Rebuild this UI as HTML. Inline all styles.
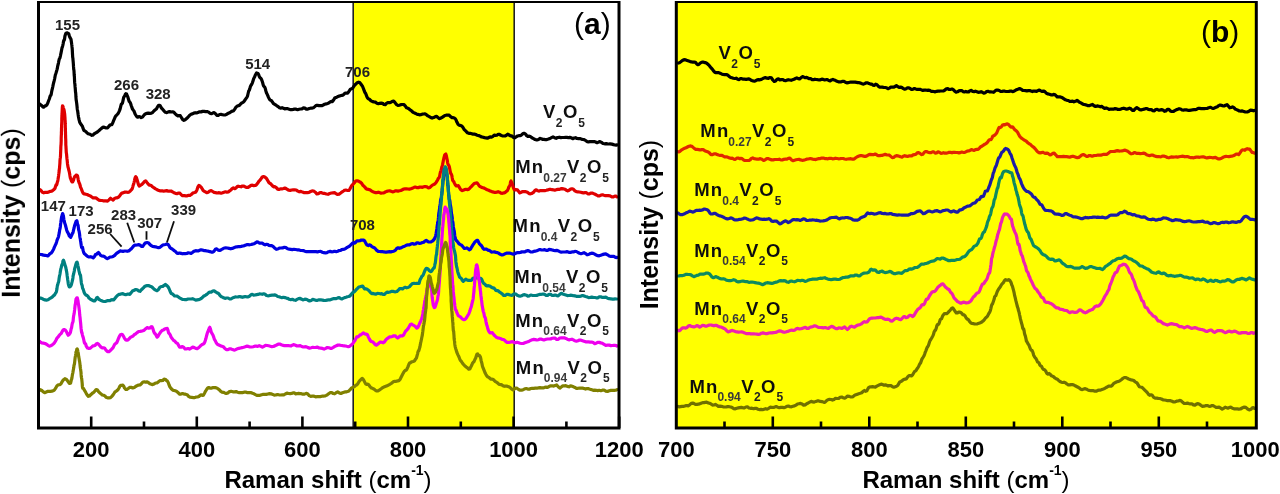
<!DOCTYPE html>
<html><head><meta charset="utf-8"><style>
html,body{margin:0;padding:0;background:#fff;}
svg{display:block;}
text{font-family:"Liberation Sans", sans-serif;font-weight:bold;}
</style></head><body>
<svg width="1280" height="494" viewBox="0 0 1280 494">
<defs>
<clipPath id="ca"><rect x="39" y="2" width="579" height="425"/></clipPath>
<clipPath id="cb"><rect x="677" y="2" width="578" height="425"/></clipPath>
<filter id="soft" x="0" y="0" width="100%" height="100%"><feGaussianBlur stdDeviation="0.5"/></filter>
</defs>
<rect x="0" y="0" width="1280" height="494" fill="#fff"/>
<g filter="url(#soft)">

<rect x="353" y="1.5" width="161.5" height="426.5" fill="#ffff00"/>
<rect x="676.3" y="1.5" width="580.0" height="426.5" fill="#ffff00"/>
<line x1="353.2" y1="1.5" x2="353.2" y2="428" stroke="#222" stroke-width="1.6"/>
<line x1="514.2" y1="1.5" x2="514.2" y2="428" stroke="#222" stroke-width="1.6"/>
<polyline clip-path="url(#ca)" points="39.4,103.7 40.0,104.4 40.7,104.9 41.7,105.6 42.7,106.7 43.7,107.2 44.4,106.5 45.2,105.8 46.0,105.6 46.8,105.0 47.7,103.3 48.5,101.0 49.3,99.0 49.7,97.7 50.1,96.3 50.4,95.7 50.8,95.3 51.2,94.3 51.6,92.0 52.0,90.0 52.3,88.8 52.7,87.1 53.1,85.2 53.5,83.2 53.9,81.8 54.2,80.7 54.6,79.0 55.0,76.7 55.4,74.7 55.8,73.6 56.2,72.4 56.6,71.0 57.0,69.6 57.4,68.0 57.7,66.1 58.1,64.5 58.5,62.8 58.9,60.6 59.3,59.0 59.7,58.3 60.0,57.7 60.4,56.0 60.7,54.5 61.1,52.6 61.6,50.0 62.0,47.9 62.4,46.9 62.8,45.4 63.2,43.5 63.5,41.4 63.9,40.3 64.2,40.2 64.6,38.8 64.9,36.3 65.7,33.6 66.3,33.0 67.0,32.9 67.7,33.1 68.2,33.2 68.7,33.8 69.3,35.7 69.9,37.4 70.4,38.2 71.0,39.3 71.4,42.1 71.6,43.5 71.7,44.2 71.9,45.4 72.0,46.9 72.2,48.5 72.3,50.1 72.4,52.1 72.5,54.2 72.6,55.9 72.7,57.3 72.9,58.3 73.0,59.6 73.1,60.9 73.2,61.9 73.4,64.5 73.5,66.4 73.6,67.5 73.7,69.2 73.9,70.1 74.0,70.9 74.1,73.0 74.2,75.0 74.4,76.8 74.5,79.2 74.6,81.5 74.7,82.9 74.9,84.3 75.0,85.5 75.1,86.9 75.3,89.0 75.4,90.6 75.5,91.9 75.7,93.0 75.8,94.3 75.9,96.7 76.1,99.2 76.2,100.1 76.4,101.1 76.6,102.6 76.8,104.3 77.0,106.2 77.2,108.2 77.4,109.8 77.6,110.7 77.8,112.0 78.0,113.4 78.2,115.0 78.5,117.0 78.8,118.4 79.1,119.9 79.7,122.2 80.3,123.4 80.9,124.1 81.6,125.3 82.4,126.3 83.1,128.4 83.9,130.5 84.7,130.8 85.8,131.5 86.9,132.8 88.1,133.7 89.3,134.1 90.5,134.5 91.8,135.3 92.9,135.1 94.1,133.9 95.3,133.1 96.6,132.5 97.8,131.6 99.1,130.5 100.3,129.4 101.7,128.2 103.2,127.2 104.7,127.4 106.2,128.0 107.5,127.8 108.8,126.4 109.9,125.1 110.9,124.8 111.8,124.6 112.7,123.0 113.6,120.7 114.5,118.6 115.2,116.9 115.9,115.7 116.6,115.2 117.4,114.3 118.1,113.4 118.8,112.2 119.5,110.6 120.2,108.6 120.8,106.1 121.3,104.1 121.9,103.8 122.5,103.0 123.1,100.1 123.7,97.4 124.2,96.6 124.8,95.7 125.3,94.3 125.8,93.7 126.6,94.0 127.2,95.5 127.9,97.2 128.5,99.2 129.2,101.4 130.0,102.3 130.6,103.5 131.2,105.5 131.8,107.1 132.5,109.1 133.2,110.0 133.8,110.7 134.5,112.4 135.1,114.0 135.7,115.0 136.8,116.7 137.9,117.2 138.9,116.5 140.0,116.7 141.2,117.6 142.5,117.1 144.0,115.1 145.6,113.8 146.9,113.4 148.3,113.1 149.9,113.3 151.4,113.1 152.8,112.3 154.1,110.8 155.3,109.8 156.4,109.0 157.3,107.3 158.2,105.8 159.2,105.3 160.2,105.8 161.1,107.5 162.0,108.7 163.0,109.7 164.1,111.1 165.4,112.3 166.8,112.6 168.3,111.9 169.7,111.6 171.1,112.0 172.6,111.8 173.9,112.3 175.3,113.9 176.8,115.2 177.9,115.9 179.1,115.5 180.3,115.7 181.5,117.7 182.7,119.6 183.9,120.3 185.1,119.8 186.3,118.8 187.5,117.8 188.6,116.5 189.8,115.2 191.0,114.3 192.4,113.9 193.8,113.1 195.2,112.7 196.6,113.0 198.0,112.4 199.5,111.8 201.0,111.9 202.6,111.4 204.1,111.4 205.6,111.6 207.1,111.5 208.5,112.1 210.0,113.3 211.4,113.7 212.7,113.1 214.2,112.6 215.5,113.7 216.8,115.3 218.3,115.3 219.6,114.5 221.0,114.4 222.5,114.7 224.0,115.0 225.4,114.9 226.8,114.2 228.2,113.3 229.7,112.7 231.1,111.7 232.5,111.0 233.5,110.9 234.6,109.4 235.6,107.7 236.7,106.5 237.7,105.8 238.7,105.7 239.6,105.1 240.8,103.7 241.9,102.9 243.0,102.4 244.1,101.3 245.2,99.8 245.8,98.8 246.4,97.9 246.9,97.3 247.5,96.1 248.1,93.5 248.7,91.0 249.3,90.2 249.8,88.8 250.4,86.5 250.9,85.5 251.6,84.5 252.3,83.1 252.9,81.2 253.5,79.2 254.1,77.8 254.7,76.8 255.2,75.3 256.6,72.9 258.0,73.4 258.6,74.5 259.3,76.4 260.0,77.7 260.7,78.1 261.5,79.4 262.2,81.3 262.7,82.8 263.2,84.9 263.7,86.1 264.3,86.7 264.8,87.3 265.3,88.6 265.9,91.0 266.5,93.0 267.1,94.1 267.8,95.6 268.4,97.1 269.1,98.5 269.8,99.7 270.5,100.2 271.3,100.5 272.2,101.7 273.3,103.4 274.4,104.2 275.6,104.9 276.9,105.8 278.2,106.6 279.5,107.8 280.7,108.1 282.1,107.7 283.4,108.2 284.8,108.9 286.2,108.5 287.6,108.6 289.2,109.3 290.5,109.6 291.8,109.6 293.2,109.4 294.7,109.0 296.1,109.2 297.6,109.7 299.1,109.3 300.5,109.0 301.9,108.8 303.4,107.9 304.9,108.1 306.3,109.1 307.8,109.1 309.2,108.5 310.5,108.2 311.8,108.2 313.4,107.8 314.8,106.6 316.2,105.3 317.6,105.4 318.9,105.6 320.3,105.7 321.7,105.7 323.2,105.0 324.6,104.3 326.1,103.9 327.5,103.4 328.8,102.9 330.1,102.0 331.3,101.4 332.4,101.6 333.6,100.0 334.7,98.1 335.9,97.6 337.4,96.8 338.9,96.1 340.4,95.7 341.8,95.3 343.0,95.1 344.2,94.0 345.1,93.0 346.0,93.0 347.1,93.2 348.1,92.7 349.3,90.9 350.4,89.2 351.6,88.8 352.7,88.2 353.7,86.5 354.7,85.1 355.7,84.3 356.6,83.3 357.6,82.5 358.6,82.2 359.7,82.6 360.7,83.8 361.7,85.2 362.7,86.7 363.3,88.3 363.9,89.9 364.5,91.5 365.0,92.6 365.6,93.3 366.2,94.8 366.9,96.8 367.7,98.2 368.6,98.8 369.6,99.4 370.5,100.4 371.6,101.1 372.6,101.6 374.0,101.9 375.4,102.1 376.9,103.2 378.4,103.7 379.7,103.3 381.2,103.1 382.6,103.3 383.9,104.5 385.3,104.7 386.7,103.1 388.1,102.5 389.6,102.7 391.0,102.2 392.4,101.4 393.7,101.2 395.1,102.7 396.7,104.7 398.0,105.5 399.3,105.2 400.8,104.7 402.3,104.5 403.8,104.5 405.2,105.9 406.4,107.7 407.6,108.1 408.8,108.7 410.1,109.9 411.3,110.6 412.5,111.8 413.7,112.6 415.1,113.2 416.5,113.9 417.9,114.4 419.4,114.8 420.8,114.6 422.2,114.2 423.6,114.0 425.0,113.8 426.4,114.7 427.9,115.9 429.3,116.6 430.7,117.5 432.1,118.1 433.6,117.6 435.0,116.8 436.5,116.3 437.9,117.4 439.2,118.7 440.7,118.2 442.1,117.3 443.5,116.5 444.8,115.5 446.2,115.2 447.6,115.0 449.1,115.2 450.6,116.7 452.0,117.6 453.3,117.7 454.3,118.0 455.3,118.7 456.2,120.3 457.0,122.3 458.0,124.1 459.0,125.1 459.9,125.4 460.9,125.6 462.0,126.2 463.0,127.5 464.0,129.3 465.1,130.4 466.1,131.3 467.5,132.8 468.8,133.3 470.2,133.3 471.6,133.7 473.1,134.1 474.4,134.1 475.8,134.5 477.3,135.3 478.7,135.6 480.2,136.2 481.6,137.0 483.0,137.2 484.5,137.6 486.0,137.9 487.4,138.2 488.8,137.5 490.1,136.8 491.5,137.2 492.9,136.4 494.2,135.1 495.5,135.3 496.9,135.2 498.2,134.3 499.5,134.4 500.9,135.3 502.3,135.9 503.6,136.0 505.0,136.0 506.4,135.3 507.7,134.2 509.1,135.0 510.5,135.8 511.8,135.8 513.1,137.2 514.6,137.8 516.1,136.8 517.5,136.0 518.8,135.7 520.0,135.6 521.3,135.2 522.4,134.1 523.5,133.3 524.6,133.4 525.7,134.3 526.7,135.7 527.8,136.4 529.3,136.2 530.5,136.6 531.9,137.8 533.5,138.6 535.1,139.5 536.8,140.0 538.5,139.4 539.8,138.4 541.2,138.7 542.5,139.3 544.0,139.4 545.4,139.6 546.9,139.6 548.4,139.1 550.0,138.5 551.5,137.6 553.0,136.9 554.5,137.7 556.1,138.3 557.7,137.5 559.3,137.2 560.9,137.6 562.4,137.5 563.9,137.5 565.5,137.4 567.0,137.4 568.4,137.7 569.8,137.4 571.3,137.8 572.7,138.7 574.1,138.0 575.5,137.7 576.9,138.5 578.4,138.6 579.8,138.6 581.3,139.1 582.7,139.5 584.1,139.6 585.6,140.5 587.0,141.6 588.4,141.8 589.9,141.6 591.3,141.5 592.7,141.6 594.2,141.5 595.6,142.0 597.1,142.7 598.5,142.1 600.0,141.6 601.5,142.4 603.0,143.5 604.6,143.8 606.1,143.6 607.5,143.9 608.9,144.0 610.1,143.8 611.9,144.1 613.5,144.6 615.0,145.0 616.1,145.1 617.0,144.9" fill="none" stroke="#000" stroke-width="3.2" stroke-linejoin="round" stroke-linecap="round"/>
<polyline clip-path="url(#ca)" points="39.4,190.3 40.1,189.7 41.2,190.7 42.4,192.3 43.7,192.8 45.0,192.4 46.4,192.4 47.9,192.3 49.3,191.7 50.5,191.3 51.7,191.1 52.9,190.3 54.0,189.4 55.0,188.3 55.5,186.4 56.0,184.9 56.5,185.1 56.9,184.1 57.3,182.3 57.7,181.2 58.0,179.6 58.4,177.1 58.6,175.7 58.7,174.4 58.9,173.3 59.0,172.5 59.2,170.8 59.3,169.4 59.5,168.4 59.6,167.0 59.7,165.5 59.9,163.1 60.0,160.4 60.1,159.4 60.2,158.6 60.4,157.2 60.5,155.8 60.6,153.3 60.7,150.7 60.8,149.1 60.8,147.9 60.9,146.0 61.0,145.0 61.0,145.1 61.1,143.3 61.2,140.7 61.2,138.4 61.3,135.8 61.4,134.2 61.4,132.6 61.5,130.4 61.5,128.6 61.6,126.9 61.6,125.2 61.7,124.1 61.7,123.5 61.8,121.8 61.8,118.8 61.9,116.4 61.9,115.4 62.0,114.6 62.0,113.4 62.1,113.0 62.1,112.5 62.3,107.8 62.5,105.8 62.6,105.8 62.9,106.4 63.1,106.9 63.3,107.8 63.6,108.9 63.9,109.4 64.1,110.2 64.4,112.3 64.7,114.3 64.9,116.8 65.0,118.5 65.0,119.6 65.1,120.1 65.2,121.9 65.2,123.9 65.3,125.7 65.3,127.2 65.4,128.5 65.4,130.5 65.5,132.4 65.5,134.0 65.6,135.6 65.6,137.2 65.7,139.0 65.8,141.7 65.8,144.3 65.9,145.8 66.0,146.9 66.0,147.9 66.1,149.0 66.2,151.1 66.3,152.6 66.5,153.7 66.7,155.9 66.9,158.2 67.1,159.7 67.3,161.6 67.5,163.9 67.8,165.8 68.0,167.0 68.3,167.9 68.5,168.7 68.7,169.7 69.0,170.7 69.2,171.5 69.6,173.5 70.0,176.1 70.4,178.1 70.8,179.0 71.2,180.1 71.6,181.2 72.0,181.8 72.7,181.9 73.5,180.1 74.2,177.6 74.8,176.4 75.5,176.0 76.1,175.2 76.8,175.1 77.1,175.5 77.5,175.9 77.8,177.3 78.2,179.5 78.6,181.3 79.1,182.8 79.6,183.6 80.0,185.0 80.5,187.0 81.1,188.3 81.7,189.9 82.5,192.0 83.3,193.4 84.4,194.0 85.7,194.2 87.1,194.5 88.6,195.2 90.2,195.9 91.8,197.0 93.1,197.9 94.4,197.9 95.9,197.9 97.3,198.9 98.8,200.1 100.3,200.4 101.8,200.5 103.2,200.8 104.6,200.9 106.1,200.9 107.6,201.1 109.0,199.9 110.5,198.2 111.9,199.2 113.2,200.1 114.5,198.5 115.9,197.9 117.1,197.8 118.3,197.2 119.5,196.1 120.7,194.3 121.8,193.1 123.0,192.9 124.5,192.2 126.0,192.0 127.5,192.3 129.0,192.1 130.3,191.0 131.5,189.7 132.2,188.8 132.7,187.1 133.2,185.2 133.7,183.9 134.1,182.3 134.5,180.5 134.8,178.9 135.3,177.3 135.7,176.7 136.4,177.6 137.1,179.7 137.8,182.2 138.5,184.8 139.2,186.1 140.0,185.6 141.0,184.9 142.1,184.3 143.3,182.9 144.5,181.4 145.6,180.9 146.5,181.9 147.4,183.1 148.3,184.2 149.2,185.1 150.2,185.2 151.3,185.5 152.5,186.8 153.8,187.7 155.2,188.6 156.7,189.5 158.2,190.2 159.8,190.8 161.1,190.8 162.4,190.9 163.8,191.2 165.3,190.8 166.7,190.6 168.2,191.2 169.7,191.2 171.1,191.0 172.5,191.8 174.0,192.7 175.5,193.4 177.0,193.7 178.5,193.1 179.9,193.2 181.3,194.8 182.5,195.7 184.3,195.6 185.9,195.8 187.3,195.8 188.7,195.3 190.0,195.3 191.3,194.5 192.5,193.3 193.6,192.8 194.7,192.5 195.7,192.1 196.9,190.1 197.9,186.9 198.9,185.4 199.9,185.9 200.7,186.8 201.4,187.5 202.2,188.8 203.1,190.5 204.2,191.3 205.4,191.9 206.7,192.7 208.2,192.2 209.7,191.0 211.2,190.6 212.7,191.5 214.1,192.4 215.5,192.6 216.9,193.0 218.4,192.7 219.8,192.9 221.2,193.2 222.6,192.8 224.0,192.2 225.4,191.8 226.9,192.2 228.3,192.0 229.7,190.8 230.9,190.0 232.1,188.6 233.3,187.9 234.6,188.7 235.8,188.1 237.0,186.8 238.2,186.2 239.6,186.5 241.0,186.8 242.4,186.0 243.9,186.1 245.3,186.9 246.7,187.4 248.1,187.4 249.6,186.4 251.0,185.3 252.4,185.2 253.8,185.6 255.2,185.5 256.4,184.8 257.6,183.3 258.8,181.4 260.0,180.1 261.1,178.8 262.1,177.1 263.1,176.5 264.5,176.9 265.6,177.6 266.6,178.7 267.9,180.8 268.8,182.5 269.7,183.2 270.7,183.7 271.7,184.9 272.8,186.1 273.9,186.8 275.0,186.7 276.3,187.6 277.6,189.1 279.0,189.5 280.4,188.9 281.9,188.9 283.5,188.5 284.8,188.1 286.1,188.6 287.4,189.5 288.8,190.2 290.2,190.4 291.7,190.0 293.2,189.8 294.8,189.9 296.3,190.0 297.8,191.1 299.3,191.8 300.9,191.4 302.5,192.1 304.2,192.7 305.8,192.5 307.4,192.7 309.0,192.4 310.6,191.5 312.1,190.9 313.7,191.0 315.3,192.2 316.8,193.8 318.4,193.6 320.0,192.6 321.5,192.7 323.1,193.4 324.7,193.4 326.4,194.0 328.0,194.3 329.7,193.5 331.4,193.0 333.0,192.8 334.5,192.7 336.0,193.7 337.3,194.5 339.1,194.1 340.7,193.0 342.2,191.8 343.5,191.0 344.7,190.2 345.8,190.0 347.5,190.5 348.8,190.5 350.0,188.8 351.1,186.6 352.1,185.0 353.1,184.2 354.2,183.0 355.2,181.5 356.2,180.8 357.2,180.8 358.4,181.1 359.4,181.7 360.6,182.3 361.8,183.5 362.9,185.3 364.1,186.4 365.2,187.5 366.1,188.8 367.1,189.2 368.3,189.4 369.7,189.8 370.9,190.4 372.2,191.4 373.6,192.0 375.1,192.6 376.6,192.7 378.2,192.2 379.7,192.6 381.1,193.2 382.4,193.0 383.8,192.8 385.3,192.0 386.7,191.4 388.1,191.0 389.6,190.8 391.0,191.3 392.4,191.8 393.8,191.6 395.2,190.9 396.6,190.9 398.1,191.1 399.5,190.8 400.9,190.5 402.3,189.8 403.7,189.0 405.1,188.8 406.6,188.9 408.0,189.0 409.4,189.2 410.9,188.8 412.3,188.2 413.7,187.6 415.2,187.1 416.7,187.6 418.2,187.7 419.7,187.0 421.2,187.1 422.5,187.3 423.8,186.8 425.0,186.5 426.9,186.9 428.4,187.8 429.7,187.7 431.0,186.4 432.4,185.1 433.7,184.5 435.0,183.8 436.1,182.5 436.9,181.2 437.7,179.8 438.4,178.3 439.1,177.5 439.7,176.1 440.1,173.5 440.5,171.8 440.8,171.4 441.1,170.3 441.5,168.5 441.8,167.1 442.2,165.9 442.6,164.4 443.0,162.4 443.5,159.8 443.9,158.0 444.4,156.2 444.8,154.8 445.3,154.3 445.8,154.0 446.2,155.2 446.7,157.6 447.2,159.8 447.6,162.6 448.1,164.5 448.5,165.0 448.9,165.5 449.3,166.7 449.7,168.6 450.1,170.7 450.5,172.6 450.9,173.6 451.3,174.2 451.8,175.3 452.2,177.8 452.7,180.4 453.2,181.1 453.8,181.7 454.4,183.1 455.3,184.9 456.3,186.0 457.3,185.8 458.4,185.7 459.4,187.4 460.6,189.6 461.9,190.6 463.2,190.3 464.6,189.6 465.9,189.3 467.4,189.6 469.0,189.1 470.4,187.4 471.7,186.2 472.9,184.9 473.9,183.7 474.9,183.3 476.0,183.1 477.0,182.9 478.0,184.0 479.1,185.7 480.3,186.7 481.6,187.4 482.9,187.7 484.2,188.1 485.7,189.0 487.2,189.7 488.7,190.3 490.1,191.0 491.5,191.4 492.8,191.9 494.1,192.3 495.4,192.4 496.8,192.1 498.1,191.7 499.5,192.2 501.0,193.2 502.4,193.3 503.9,192.9 505.1,192.4 506.2,191.5 507.4,190.6 508.2,188.9 508.8,187.1 509.4,186.1 509.9,185.2 510.2,183.8 510.6,181.7 511.0,181.0 511.4,182.2 511.9,183.0 512.3,184.1 512.9,186.0 513.5,187.9 514.2,189.5 514.8,189.9 515.8,189.6 517.5,189.8 518.5,191.3 519.8,192.9 521.2,192.2 522.7,191.5 524.2,191.7 525.8,191.7 527.4,192.3 529.0,193.6 530.5,193.8 531.9,193.4 533.4,192.4 534.9,190.5 536.3,189.8 537.8,190.8 539.2,191.1 540.6,190.6 542.0,190.5 543.4,190.7 544.9,190.6 546.3,190.3 547.7,189.9 549.1,189.4 550.5,189.4 551.9,189.7 553.3,189.8 554.8,190.2 556.2,189.8 557.6,189.4 559.0,189.4 560.4,188.9 561.9,188.6 563.3,188.8 564.8,189.2 566.3,190.2 567.7,190.9 569.1,190.2 570.6,189.1 572.0,188.8 573.5,189.3 574.9,190.8 576.4,191.7 577.8,191.8 579.3,192.0 580.7,192.3 582.1,192.6 583.6,192.9 585.0,192.7 586.4,192.7 587.9,193.8 589.3,194.0 590.7,193.1 592.2,193.0 593.6,193.6 595.1,194.3 596.5,195.0 598.0,195.9 599.5,195.9 601.0,195.1 602.5,194.8 603.9,195.3 605.3,195.6 606.6,195.7 608.3,195.7 610.1,195.9 611.8,196.8 613.4,196.9 614.9,196.0 616.1,196.2 617.0,196.9" fill="none" stroke="#e00000" stroke-width="3.2" stroke-linejoin="round" stroke-linecap="round"/>
<polyline clip-path="url(#ca)" points="39.4,254.2 40.4,254.5 41.8,254.6 43.4,255.2 45.1,255.3 46.5,255.5 47.7,255.9 48.9,254.9 50.0,253.7 51.1,253.1 52.2,251.8 52.9,250.4 53.7,248.9 54.4,247.1 55.1,245.6 55.9,244.1 56.6,241.9 57.2,239.8 57.8,238.3 58.2,237.7 58.5,236.6 58.8,235.1 59.2,233.2 59.5,231.2 59.7,229.8 60.0,228.8 60.3,227.0 60.5,224.8 60.8,222.7 61.0,221.0 61.2,219.7 61.6,217.0 62.0,215.7 62.3,214.8 62.6,213.6 62.9,214.1 63.1,215.0 63.4,215.8 63.6,217.4 63.9,219.5 64.2,221.2 64.5,222.4 64.9,223.5 65.3,224.7 65.7,226.3 66.2,228.1 66.7,230.2 67.3,231.8 67.8,232.5 68.3,233.5 68.8,234.6 69.2,235.9 70.7,237.3 72.0,234.5 72.4,233.4 72.8,233.1 73.2,231.7 73.7,229.4 74.1,228.0 74.4,226.5 74.8,225.0 75.5,222.9 76.1,221.2 76.8,220.7 77.1,221.6 77.4,223.5 77.7,224.6 78.1,225.3 78.4,227.9 78.7,230.1 79.1,231.3 79.3,232.4 79.6,234.3 79.8,236.5 80.0,237.8 80.3,238.9 80.5,240.5 80.8,242.2 81.0,243.7 81.3,245.7 81.6,247.4 81.9,246.7 82.5,247.4 83.1,250.4 83.8,252.7 84.5,253.8 85.3,254.4 86.2,255.2 87.5,256.4 88.9,257.0 90.5,256.7 91.9,257.1 93.2,257.8 94.5,256.4 95.5,254.6 96.5,254.2 97.5,253.3 98.5,252.5 99.4,253.5 100.4,255.2 101.7,256.0 102.9,256.1 104.3,256.6 105.8,257.8 107.3,258.6 108.8,257.8 110.0,257.0 111.2,257.0 112.3,256.7 113.5,256.2 114.7,255.4 115.9,254.0 117.3,252.8 118.8,251.8 120.3,250.9 121.7,251.2 123.0,251.4 124.5,251.0 125.9,251.0 127.2,251.3 128.7,250.9 129.8,250.1 131.0,249.1 132.2,247.7 133.4,246.2 134.6,245.1 135.7,245.1 137.2,245.0 138.6,244.6 140.0,245.0 141.4,246.4 142.6,246.5 143.8,244.9 144.9,243.3 146.1,242.7 147.1,242.5 148.2,242.7 149.2,243.7 150.2,244.8 151.3,245.7 152.6,246.4 154.1,246.6 155.5,246.8 157.0,247.3 158.4,247.7 159.9,247.4 161.3,246.2 162.6,245.1 164.1,244.8 165.5,244.5 166.9,244.0 167.9,244.2 168.9,245.6 169.9,247.5 171.1,248.5 172.1,248.8 173.1,249.8 174.2,250.6 175.5,251.5 176.8,253.1 178.1,253.4 179.5,253.0 181.0,253.4 182.5,253.8 183.9,253.5 185.3,253.7 186.8,253.5 188.3,252.8 189.7,253.0 191.1,253.4 192.4,252.5 193.6,251.5 194.7,251.0 195.7,250.7 197.0,250.8 198.5,250.9 199.7,250.3 201.0,249.8 202.4,250.1 203.8,250.6 205.3,250.6 206.8,251.0 208.3,251.2 209.8,251.6 211.2,252.1 212.6,252.1 213.9,251.3 215.3,249.3 216.7,248.8 218.2,250.2 219.6,250.5 221.2,249.7 222.7,248.9 224.2,248.0 225.8,247.9 227.4,248.0 229.1,248.4 230.7,248.8 232.3,248.4 233.8,247.8 235.3,247.1 236.9,246.8 238.3,246.7 239.8,246.6 241.2,246.4 242.6,246.0 243.9,245.8 245.3,245.2 246.7,244.7 248.1,244.7 249.6,244.8 251.1,244.5 252.5,244.1 254.0,243.8 255.4,242.9 256.7,241.9 258.0,242.1 259.6,243.2 261.0,243.2 262.4,243.1 263.8,244.3 265.1,244.9 266.5,244.3 267.9,244.6 269.1,245.5 270.4,245.7 271.7,245.6 273.3,246.6 275.0,248.3 276.3,249.3 277.8,249.0 279.3,248.1 280.9,248.0 282.6,247.9 284.3,247.3 285.9,247.6 287.6,248.8 289.2,249.2 290.8,249.4 292.3,249.6 293.9,249.3 295.5,249.5 297.0,249.8 298.6,249.9 300.2,250.3 301.7,250.5 303.3,250.6 304.9,251.2 306.5,251.7 308.0,251.5 309.6,251.6 311.2,251.7 312.8,251.5 314.3,251.6 315.9,251.7 317.5,251.9 319.1,251.5 320.7,251.4 322.3,252.2 323.8,252.7 325.4,252.9 327.0,252.6 328.6,251.7 330.1,251.4 331.6,251.8 333.1,251.6 334.6,251.3 336.2,251.6 337.7,251.2 339.2,250.5 340.6,250.3 342.0,249.5 343.2,249.3 344.4,249.2 345.9,248.3 347.2,247.4 348.3,246.8 349.3,246.3 350.3,245.4 351.3,244.3 352.5,243.1 353.7,242.9 354.8,243.1 355.9,242.0 357.0,240.8 358.4,240.9 359.9,240.7 361.3,240.0 362.7,240.1 363.8,240.1 364.8,241.2 365.9,243.4 367.0,245.1 368.3,245.6 369.4,244.8 370.5,245.2 371.7,246.5 373.0,247.2 374.3,247.8 375.6,248.9 376.8,250.4 378.2,251.4 379.5,251.5 380.9,251.6 382.3,251.7 383.7,251.8 385.3,252.1 386.6,252.2 387.9,251.8 389.4,251.7 390.8,251.9 392.3,251.5 393.8,251.2 395.3,250.4 396.7,248.5 398.1,247.8 399.5,248.3 400.9,247.9 402.4,247.1 403.8,246.6 405.2,245.9 406.6,245.1 408.0,244.9 409.5,244.8 411.0,244.0 412.5,243.5 414.0,244.2 415.5,244.0 416.9,242.8 418.2,242.8 419.3,243.4 421.1,243.1 422.5,242.6 423.7,242.2 424.9,241.1 426.2,240.4 427.3,241.1 428.5,242.0 429.7,242.0 431.0,241.9 432.3,241.2 433.6,240.0 434.6,238.5 435.3,236.8 435.7,235.3 436.1,233.6 436.5,231.1 436.7,229.6 436.9,228.4 437.1,226.7 437.3,225.2 437.5,224.4 437.7,223.1 437.9,221.5 438.1,220.5 438.3,219.2 438.5,217.2 438.7,214.5 438.9,212.7 439.1,212.0 439.2,211.1 439.4,209.8 439.6,208.5 439.8,207.1 440.0,205.4 440.3,203.4 440.5,201.0 440.8,198.8 441.0,198.6 441.3,197.8 441.5,195.7 441.8,193.9 441.9,192.5 442.1,190.9 442.2,189.7 442.4,188.0 442.5,186.0 442.6,184.7 442.8,183.6 442.9,181.9 443.1,180.2 443.2,179.7 443.4,179.3 443.5,177.5 443.9,173.6 444.2,170.7 444.6,169.0 444.9,168.7 445.3,168.6 445.6,167.9 446.0,168.8 446.3,171.4 446.7,173.8 447.0,175.7 447.1,176.1 447.3,176.8 447.4,178.9 447.6,181.4 447.7,183.7 447.8,185.4 448.0,185.6 448.1,186.7 448.3,189.2 448.4,191.2 448.6,192.9 448.7,194.7 449.0,196.9 449.2,198.9 449.5,199.8 449.7,199.9 450.0,202.0 450.2,204.4 450.5,205.6 450.7,206.8 450.9,207.9 451.1,209.4 451.3,211.8 451.4,213.1 451.6,214.1 451.8,215.2 452.0,215.9 452.2,217.5 452.4,219.9 452.6,221.1 452.9,222.3 453.1,224.4 453.3,226.5 453.6,228.4 453.8,229.5 454.0,230.0 454.3,231.4 454.5,233.2 454.7,235.2 455.1,237.5 455.6,239.5 456.2,240.4 456.9,240.9 457.7,241.9 458.6,243.3 459.6,244.2 460.5,244.7 461.7,245.2 463.1,246.9 464.4,248.5 465.8,248.2 467.0,247.9 468.3,249.0 469.5,249.8 470.6,248.9 471.8,246.8 472.8,245.2 473.8,243.7 474.8,242.1 475.8,241.2 476.7,240.4 477.7,240.4 478.5,242.0 479.5,243.9 480.7,245.0 481.7,246.0 482.9,248.1 484.1,249.3 485.4,249.0 486.7,249.2 488.0,250.1 489.2,250.4 490.4,251.1 491.5,252.1 492.8,252.0 494.3,251.9 496.1,252.4 497.4,252.6 498.8,253.3 500.3,254.3 501.9,254.9 503.5,254.6 505.2,253.7 506.9,253.1 508.6,253.1 510.2,253.2 511.8,253.7 513.3,254.2 514.7,253.8 516.1,253.0 517.5,252.6 518.9,252.7 520.4,252.5 521.8,251.8 523.3,251.9 524.8,251.9 526.4,251.0 527.8,250.6 529.2,251.1 530.7,252.0 532.2,252.0 533.7,251.4 535.3,251.1 536.8,250.8 538.4,250.1 540.0,249.5 541.5,250.0 543.1,250.0 544.6,249.6 546.1,250.3 547.6,250.3 549.1,249.4 550.7,249.6 552.2,250.0 553.7,250.4 555.2,250.6 556.7,250.4 558.2,250.8 559.8,251.7 561.3,252.1 562.8,252.0 564.3,252.0 565.8,251.9 567.3,251.6 568.9,252.3 570.4,252.4 571.9,251.9 573.4,251.9 574.9,251.4 576.4,251.5 578.0,252.5 579.5,253.2 581.0,253.6 582.5,253.2 584.0,252.7 585.6,253.6 587.1,254.8 588.6,254.5 590.1,253.6 591.6,253.2 593.2,253.4 594.7,254.2 596.2,255.1 597.7,255.7 599.2,255.8 600.8,255.3 602.4,254.6 604.1,254.1 605.8,253.8 607.5,254.8 609.2,256.0 610.9,256.4 612.4,256.3 613.8,256.4 615.1,257.2 616.1,257.6 617.0,257.4" fill="none" stroke="#0000e0" stroke-width="3.2" stroke-linejoin="round" stroke-linecap="round"/>
<polyline clip-path="url(#ca)" points="39.4,297.9 40.4,298.1 41.7,298.4 43.3,299.2 45.0,299.9 46.5,300.1 48.0,299.8 49.5,298.7 51.0,297.9 52.4,296.9 53.6,295.6 54.3,295.1 54.9,294.4 55.4,293.4 55.9,292.6 56.4,291.7 56.9,289.1 57.3,286.1 57.8,284.5 58.1,283.2 58.5,282.0 58.8,281.0 59.1,278.5 59.5,276.0 59.8,274.9 60.1,273.3 60.4,271.1 60.7,269.5 60.9,268.6 61.2,267.7 61.7,265.4 62.2,264.1 62.6,262.9 63.0,260.9 63.5,260.2 63.9,261.3 64.3,262.7 64.7,264.0 65.1,265.5 65.5,266.4 65.9,268.0 66.3,270.2 66.6,271.5 66.9,273.4 67.2,276.0 67.5,278.1 67.7,279.7 68.0,281.6 68.3,283.8 68.6,285.0 68.9,285.9 69.2,286.8 69.9,286.9 70.6,286.2 71.3,284.8 72.0,282.2 72.3,280.9 72.6,279.7 72.9,278.0 73.1,276.0 73.4,274.8 73.7,273.8 74.0,272.3 74.3,271.0 74.5,269.6 74.8,268.1 75.4,266.1 75.9,264.3 76.5,262.6 77.1,262.2 77.5,263.5 77.8,265.3 78.2,266.9 78.6,268.9 79.0,270.9 79.5,272.9 79.9,274.5 80.2,274.7 80.5,275.3 80.7,276.9 81.0,279.6 81.3,282.3 81.6,284.2 81.9,284.7 82.2,285.7 82.5,287.9 82.9,288.8 83.3,289.6 84.1,292.2 85.0,294.1 86.0,295.0 87.0,295.5 88.0,296.4 89.0,298.1 90.5,299.3 92.0,300.0 93.5,300.8 94.7,300.9 95.8,299.7 96.6,298.0 97.5,297.5 98.4,298.6 99.3,299.6 100.4,300.2 101.7,300.7 102.9,301.2 104.3,301.5 105.8,301.3 107.3,300.7 108.8,300.6 110.0,300.7 111.2,299.9 112.4,299.7 113.6,300.0 114.8,298.7 115.9,297.1 117.4,295.5 118.8,294.4 120.1,294.3 121.6,293.8 122.9,293.7 124.3,294.4 125.8,294.6 127.3,294.2 128.7,294.2 129.9,294.3 131.1,292.8 132.4,291.1 133.6,290.6 134.7,290.0 135.7,289.5 137.2,289.8 138.5,290.9 140.0,291.3 141.0,290.2 142.2,289.0 143.4,287.9 144.6,286.5 145.9,285.8 147.1,285.6 148.3,285.6 149.5,285.9 150.7,286.4 151.9,287.0 153.0,288.0 154.1,289.2 155.6,290.1 157.0,290.7 158.4,289.6 159.8,287.4 161.2,286.5 162.7,286.5 164.1,285.3 165.5,284.5 166.4,285.2 167.3,286.0 168.1,286.9 169.0,288.5 170.0,291.0 171.1,293.4 172.2,293.8 173.3,294.7 174.5,296.0 175.8,296.0 177.1,296.1 178.4,297.0 179.6,297.8 181.0,298.6 182.4,299.4 183.7,299.5 185.1,299.6 186.6,299.6 188.1,299.0 189.5,299.0 191.0,299.0 192.6,298.7 194.2,299.4 195.7,300.1 197.2,299.9 198.5,299.7 199.9,299.2 201.2,298.5 202.4,297.5 203.5,296.3 204.5,295.8 205.6,295.2 206.8,294.4 207.9,293.4 209.0,292.3 210.1,292.1 211.2,292.1 212.7,291.1 214.1,290.8 215.6,291.9 216.9,292.7 218.0,293.2 218.9,293.8 219.9,295.4 221.2,296.7 222.3,297.0 223.6,297.8 225.0,298.4 226.5,298.0 228.1,298.0 229.7,299.0 231.0,298.8 232.3,298.1 233.7,297.4 235.2,296.9 236.6,297.0 238.1,296.9 239.6,296.5 241.0,296.9 242.4,297.3 243.8,296.9 245.2,296.5 246.6,296.8 248.1,296.9 249.5,296.2 250.9,294.8 252.3,294.3 253.7,295.1 255.1,295.0 256.6,294.6 258.0,294.4 259.4,293.9 260.9,294.0 262.3,294.3 263.7,293.8 265.1,294.3 266.5,295.5 267.8,295.8 269.2,295.6 270.6,295.3 272.0,295.2 273.4,295.1 275.0,294.9 276.3,295.5 277.7,296.5 279.0,296.8 280.5,297.3 281.9,297.6 283.4,297.3 284.9,297.6 286.3,298.1 287.8,298.4 289.2,299.3 290.8,299.7 292.3,299.3 293.9,300.0 295.5,300.3 297.0,299.4 298.6,298.6 300.2,298.3 301.7,299.3 303.3,299.9 304.9,299.2 306.5,299.3 308.0,300.2 309.6,301.0 311.2,300.5 312.8,299.4 314.3,299.7 315.9,300.4 317.5,300.3 319.1,299.8 320.7,299.8 322.3,300.1 323.9,300.4 325.5,300.5 327.1,300.1 328.7,299.8 330.2,299.9 331.6,299.3 333.2,298.7 334.8,298.6 336.3,298.6 337.8,297.9 339.2,297.6 340.5,298.5 341.8,299.0 343.0,298.4 344.6,297.6 346.0,297.2 347.3,296.7 348.4,296.5 349.7,296.1 350.8,295.0 351.9,293.5 353.0,292.3 354.0,291.9 355.1,291.0 356.2,289.7 357.5,288.4 358.8,287.0 360.1,286.7 361.4,286.4 362.7,286.1 363.7,287.7 364.7,289.0 365.7,288.8 366.7,289.0 367.8,289.8 369.1,290.8 370.3,292.4 371.7,293.6 373.1,293.4 374.5,293.9 376.0,294.2 377.5,293.4 378.9,293.5 380.3,293.8 381.7,293.6 383.1,294.4 384.4,294.5 385.8,293.0 387.2,292.1 388.6,292.3 390.0,292.0 391.4,291.4 392.8,291.3 394.1,291.6 395.5,291.8 396.9,291.5 398.3,290.2 399.7,288.6 401.1,288.5 402.5,289.0 403.8,287.9 405.2,287.3 406.6,287.8 408.0,287.5 409.5,286.6 411.0,284.9 412.5,283.5 414.1,283.3 415.5,283.5 416.7,283.3 417.7,283.4 419.0,283.5 419.4,282.2 420.0,279.8 420.6,278.9 421.2,277.7 421.9,276.3 422.7,275.7 423.4,274.5 424.0,272.8 425.2,269.9 426.2,268.4 427.3,268.6 428.4,269.4 429.4,270.7 430.5,271.6 431.3,271.4 432.2,270.3 433.0,268.8 433.8,268.0 434.2,268.0 434.6,266.1 434.9,264.2 435.3,263.0 435.6,260.6 435.9,257.6 436.2,255.4 436.4,254.7 436.6,254.4 436.7,252.6 436.9,250.6 437.0,249.5 437.2,248.1 437.4,246.2 437.5,244.8 437.7,243.7 437.8,242.0 438.0,239.8 438.1,238.8 438.2,237.7 438.4,236.0 438.5,233.8 438.6,232.2 438.7,231.5 438.9,229.9 439.0,227.4 439.1,225.8 439.2,225.3 439.4,224.3 439.5,222.8 439.6,221.3 439.7,219.1 439.9,216.9 440.0,215.7 440.1,213.7 440.3,211.3 440.4,210.2 440.5,208.9 440.7,206.5 440.8,205.3 441.0,204.7 441.1,203.8 441.2,202.0 441.4,200.1 441.5,198.5 441.6,195.7 441.8,194.0 441.9,193.9 442.0,192.4 442.2,190.0 442.3,189.0 442.4,187.7 442.6,185.5 442.7,183.0 442.8,180.5 443.0,178.9 443.1,178.2 443.2,177.2 443.4,175.7 443.5,174.8 443.8,173.0 444.1,170.5 444.4,169.3 444.7,168.9 445.0,167.3 445.3,166.8 445.6,167.2 445.9,167.9 446.2,169.5 446.5,170.6 446.7,171.8 447.0,173.8 447.1,175.1 447.3,177.0 447.4,179.1 447.5,180.9 447.7,182.7 447.8,183.8 447.9,184.5 448.1,186.2 448.2,188.0 448.3,189.8 448.5,192.0 448.6,193.7 448.7,194.5 448.9,195.1 449.0,196.8 449.1,199.4 449.3,201.5 449.4,202.6 449.5,203.7 449.7,205.6 449.8,207.1 450.0,208.1 450.1,209.7 450.2,211.7 450.4,213.3 450.5,214.7 450.6,216.2 450.7,217.6 450.9,219.5 451.0,221.9 451.1,223.0 451.2,223.7 451.4,226.1 451.5,228.6 451.6,229.9 451.7,230.7 451.9,232.1 452.0,234.8 452.1,235.9 452.2,236.2 452.4,238.4 452.5,240.8 452.8,242.3 453.1,243.0 453.3,244.7 453.6,247.3 453.9,249.3 454.2,250.2 454.5,251.1 454.8,252.4 455.0,253.4 455.2,254.3 455.4,255.3 455.6,256.9 455.7,259.5 455.9,261.9 456.1,263.6 456.4,265.4 456.6,266.8 456.9,267.5 457.2,269.0 457.7,271.6 458.2,273.4 458.9,275.1 459.5,276.9 460.2,277.7 460.8,277.9 461.5,278.7 462.1,280.1 463.3,281.3 464.6,280.1 465.8,279.2 467.0,279.9 468.5,280.4 469.8,280.3 471.0,280.4 471.9,279.8 472.7,278.5 473.4,278.1 474.5,278.1 475.9,278.1 477.1,277.7 478.4,277.8 479.9,278.6 480.8,278.3 481.7,279.3 482.7,281.9 483.7,283.5 484.8,284.2 485.9,285.4 487.1,285.9 488.4,285.7 489.8,286.0 491.3,287.1 492.3,287.8 493.5,287.8 494.6,288.7 495.8,290.4 497.1,290.6 498.3,290.9 499.6,292.2 500.9,292.9 502.4,294.1 503.8,295.5 505.3,295.3 506.8,294.4 508.4,294.4 510.0,295.0 511.8,295.3 513.1,294.5 514.4,293.8 515.8,294.1 517.2,295.2 518.6,295.9 520.1,296.2 521.6,295.8 523.2,294.9 524.8,294.7 526.4,295.2 527.8,296.1 529.2,295.9 530.7,295.0 532.2,295.3 533.7,295.5 535.3,295.5 536.8,295.4 538.4,294.8 540.0,294.4 541.5,294.3 543.1,294.0 544.6,294.4 546.1,295.3 547.6,295.4 549.1,294.3 550.7,294.4 552.2,295.5 553.7,295.4 555.2,295.0 556.7,295.6 558.2,295.8 559.8,294.4 561.3,293.3 562.8,294.0 564.3,294.6 565.8,295.1 567.3,295.6 568.9,295.5 570.4,295.2 571.9,295.4 573.4,295.7 574.9,295.9 576.4,296.3 578.0,296.4 579.5,296.4 581.0,296.1 582.5,295.5 584.0,295.9 585.6,296.5 587.1,296.9 588.6,297.6 590.1,297.5 591.6,297.1 593.2,297.4 594.7,297.5 596.2,297.8 597.7,297.8 599.2,296.9 600.8,296.8 602.4,297.4 604.1,297.3 605.8,297.2 607.5,298.2 609.2,298.7 610.9,298.8 612.4,299.2 613.8,299.1 615.1,298.9 616.1,299.0 617.0,299.0" fill="none" stroke="#008080" stroke-width="3.2" stroke-linejoin="round" stroke-linecap="round"/>
<polyline clip-path="url(#ca)" points="39.4,341.1 40.4,342.1 41.7,342.9 43.3,343.1 45.0,343.5 46.5,344.2 47.9,345.3 49.4,346.1 50.9,345.7 52.3,344.8 53.6,343.8 54.5,342.7 55.3,341.4 56.1,340.0 56.9,338.3 57.7,337.4 58.4,336.7 59.2,335.4 60.2,334.2 61.2,333.5 62.2,331.6 63.1,329.9 64.1,329.5 65.1,329.9 66.2,331.2 67.2,333.4 68.2,335.2 69.2,334.5 69.6,333.5 70.0,333.3 70.4,332.4 70.9,330.1 71.2,328.7 71.6,327.6 72.0,324.9 72.4,323.0 72.7,322.6 73.1,321.1 73.4,317.7 73.7,315.4 73.9,314.8 74.2,313.3 74.4,311.4 74.6,310.0 74.8,308.3 75.0,306.3 75.2,304.7 75.4,303.9 75.6,302.6 75.8,300.5 76.0,299.2 76.2,298.9 76.8,297.8 77.3,297.8 77.9,300.3 78.5,304.6 78.7,305.4 78.8,306.3 79.0,307.8 79.2,309.3 79.3,310.3 79.5,311.9 79.7,314.8 79.9,316.4 80.1,317.8 80.3,320.1 80.5,322.0 80.7,323.8 80.9,326.4 81.1,328.5 81.3,329.8 81.5,331.6 81.7,332.6 81.9,332.4 82.3,334.3 82.8,336.4 83.2,337.4 83.7,339.5 84.2,342.0 84.6,343.4 85.1,343.4 85.7,344.1 86.2,346.1 87.5,348.0 88.9,348.4 90.4,348.1 91.8,346.9 92.9,345.9 93.9,345.8 95.0,345.5 96.2,344.0 97.5,343.4 98.6,344.3 99.8,345.7 101.0,347.1 102.3,347.9 103.6,347.8 104.8,348.2 106.0,350.2 107.5,351.7 108.9,351.7 110.3,350.5 111.7,349.2 113.1,347.7 113.8,346.1 114.5,344.6 115.3,343.7 116.0,343.3 116.7,342.7 117.5,341.0 118.2,339.1 118.9,337.5 119.6,336.0 120.2,335.0 121.4,334.3 122.4,334.5 123.4,336.1 124.5,338.3 125.8,339.9 126.9,340.2 128.0,339.9 129.2,338.8 130.5,337.2 131.8,336.7 133.1,336.0 134.3,334.7 135.7,333.8 137.1,332.6 138.6,331.5 140.0,331.4 141.4,331.2 142.8,330.8 144.2,330.2 145.7,328.7 147.2,327.6 148.7,328.2 150.0,328.0 151.3,326.7 152.1,326.9 152.9,328.6 153.5,330.8 154.2,332.6 154.8,333.5 155.4,333.9 156.2,335.4 157.0,337.2 157.9,336.5 159.0,334.4 160.1,332.8 161.3,331.2 162.4,330.3 163.5,329.9 164.6,329.1 165.5,328.8 166.4,328.5 167.2,328.4 168.0,330.4 168.6,333.0 169.4,333.6 170.2,334.8 171.1,337.1 171.9,338.2 172.8,339.4 173.7,340.6 174.7,341.0 175.7,342.2 176.7,343.1 177.7,343.7 178.6,345.4 179.6,347.1 181.0,347.2 182.4,346.5 183.7,347.4 185.1,349.0 186.6,348.8 188.1,348.5 189.5,349.1 191.1,348.2 192.7,347.1 194.3,347.6 195.8,348.4 197.2,348.7 198.5,347.8 200.0,346.4 201.2,345.2 202.3,344.4 203.3,344.0 204.2,343.2 204.8,342.0 205.4,340.2 205.9,338.6 206.3,336.9 206.8,335.0 207.2,333.5 207.6,332.3 208.2,330.8 208.7,329.7 209.2,328.2 209.8,327.3 210.3,328.5 210.8,330.4 211.3,332.2 211.9,333.4 212.7,334.6 213.2,335.7 213.8,337.4 214.3,339.1 215.0,340.3 215.7,341.6 216.4,343.1 217.3,344.2 218.3,344.8 219.4,345.3 220.6,345.9 221.9,346.2 223.3,346.7 224.8,348.3 226.3,349.7 228.0,349.6 229.7,348.8 231.0,348.9 232.5,349.6 234.0,350.1 235.6,349.7 237.2,348.8 238.9,348.4 240.5,348.0 242.1,347.6 243.7,347.3 245.2,346.8 246.7,346.1 248.4,346.4 250.0,347.0 251.6,347.0 253.2,346.7 254.7,346.2 256.2,346.2 257.7,346.4 259.2,345.7 260.8,346.3 262.4,347.2 263.9,346.3 265.5,345.3 267.1,345.5 268.7,345.8 270.3,346.2 271.8,346.7 273.4,346.5 275.0,345.7 276.6,345.0 278.2,344.2 279.7,344.0 281.3,344.7 282.9,345.4 284.5,345.6 286.1,345.7 287.6,345.6 289.2,345.7 290.8,346.0 292.3,345.2 293.9,344.6 295.5,345.3 297.0,346.0 298.6,345.8 300.2,345.6 301.7,346.5 303.3,347.0 304.9,346.7 306.5,346.8 308.0,347.6 309.6,348.1 311.2,347.8 312.8,347.3 314.3,347.5 315.9,347.4 317.5,347.1 319.1,348.0 320.7,348.1 322.4,348.4 324.1,349.1 325.7,348.4 327.3,347.5 328.9,347.8 330.3,348.3 331.6,348.3 333.3,347.4 334.9,346.4 336.3,345.8 337.5,345.2 338.8,345.0 340.0,345.2 341.5,345.5 342.9,345.7 344.2,345.8 345.5,346.0 346.7,346.3 348.2,346.6 349.6,346.4 350.9,345.3 352.2,344.3 353.1,343.1 354.0,341.5 354.9,340.7 355.7,338.9 356.7,336.9 357.8,336.8 358.9,336.1 360.1,334.9 361.2,334.6 362.3,333.6 363.5,332.9 364.6,333.8 365.6,334.2 366.7,334.1 367.6,335.0 368.4,337.1 369.3,338.9 370.2,340.5 371.2,341.5 372.5,341.8 373.7,342.8 375.1,344.6 376.7,345.1 377.9,344.1 379.1,342.8 380.5,342.0 381.8,342.3 383.2,342.8 384.5,341.9 385.6,340.1 386.8,338.9 387.9,338.2 389.0,337.3 390.2,336.8 391.2,336.8 392.3,336.5 393.7,335.8 395.1,335.8 396.4,337.0 397.7,338.0 399.0,337.0 400.1,335.9 401.3,335.9 402.4,335.9 403.5,335.2 404.6,332.9 405.7,330.9 406.9,329.9 408.0,328.6 409.1,326.7 410.2,324.7 411.3,324.0 412.7,324.8 414.2,325.6 415.6,326.8 416.8,328.0 417.8,327.5 418.7,325.8 419.4,324.0 420.2,322.3 420.7,321.1 421.1,320.0 421.6,319.2 422.0,317.8 422.4,315.8 422.9,313.2 423.1,311.2 423.4,310.2 423.6,309.3 423.9,307.6 424.1,305.9 424.4,304.4 424.6,302.5 424.8,301.1 425.1,300.1 425.3,298.9 425.6,297.9 425.8,296.7 426.2,294.8 426.6,292.4 427.0,289.5 427.4,287.9 427.8,286.7 428.1,285.7 428.4,285.5 428.9,283.7 429.3,282.2 429.7,282.1 430.0,282.1 430.2,282.8 430.5,284.7 430.9,286.6 431.2,288.0 431.5,289.5 431.7,290.5 431.9,292.3 432.0,295.1 432.2,297.3 432.4,298.8 432.6,300.2 432.8,301.5 433.0,303.2 433.2,304.8 433.4,305.3 433.7,306.1 434.3,307.6 434.9,307.3 435.7,305.3 436.4,303.1 437.0,301.3 437.6,299.1 437.8,297.4 438.0,296.1 438.2,295.4 438.4,294.2 438.6,292.1 438.7,290.2 438.8,288.3 439.0,286.3 439.1,284.8 439.2,283.7 439.4,282.1 439.5,279.7 439.6,278.0 439.7,276.9 439.8,276.0 439.9,274.4 440.0,272.3 440.1,270.7 440.2,269.3 440.3,267.8 440.4,265.6 440.5,263.6 440.5,262.3 440.6,260.9 440.7,259.3 440.8,258.1 440.9,256.7 441.0,255.2 441.1,253.8 441.2,252.2 441.3,250.0 441.4,248.3 441.5,246.3 441.6,244.2 441.7,243.0 441.8,241.4 441.8,239.6 441.9,238.3 442.0,237.2 442.1,236.0 442.2,234.3 442.3,232.6 442.4,231.6 442.5,230.3 442.6,228.1 442.8,226.5 442.9,225.3 443.0,223.8 443.2,222.1 443.3,220.7 443.4,220.0 443.6,219.1 443.7,216.6 443.8,214.8 444.0,214.4 444.4,211.7 444.8,208.5 445.2,207.1 445.6,207.7 446.0,208.5 446.4,208.6 446.8,209.2 447.2,210.8 447.6,212.1 448.0,213.7 448.2,215.0 448.3,216.4 448.4,217.6 448.6,218.4 448.7,219.4 448.8,221.7 449.0,223.4 449.1,224.7 449.2,226.2 449.4,228.0 449.5,229.5 449.6,230.5 449.7,232.6 449.8,234.3 449.9,234.6 450.0,235.5 450.1,237.5 450.2,239.7 450.2,241.8 450.3,244.1 450.4,246.3 450.5,247.6 450.6,248.6 450.7,249.4 450.8,250.0 450.9,251.8 451.0,254.2 451.1,256.3 451.2,258.4 451.3,260.3 451.4,261.8 451.5,263.0 451.6,264.6 451.7,266.3 451.8,268.0 451.8,269.7 451.9,271.1 452.0,272.7 452.1,274.6 452.2,276.3 452.3,277.5 452.4,279.5 452.5,281.7 452.6,283.0 452.7,284.2 452.9,285.6 453.0,286.6 453.1,288.5 453.2,290.5 453.3,291.9 453.5,293.5 453.6,295.0 453.7,296.0 453.9,296.8 454.0,297.9 454.2,299.9 454.3,302.0 454.5,303.2 454.7,304.1 454.8,305.7 455.1,307.5 455.3,309.3 455.7,309.9 456.1,310.2 456.9,312.7 458.0,315.2 459.1,316.2 460.4,316.9 461.5,318.1 462.6,319.1 464.0,319.7 465.4,319.2 466.6,317.5 467.9,315.2 468.4,314.6 468.9,313.6 469.4,312.3 470.0,310.6 470.5,308.7 471.0,307.5 471.4,306.2 471.8,304.4 472.2,302.6 472.6,301.0 472.9,299.9 473.2,298.5 473.4,296.8 473.5,295.0 473.7,293.4 473.9,292.1 474.0,290.2 474.1,288.4 474.3,287.1 474.5,285.2 474.6,283.3 474.8,281.0 474.9,279.3 475.1,278.0 475.2,275.4 475.4,272.9 475.5,271.5 475.7,269.8 475.8,269.0 476.0,268.4 476.2,266.7 476.3,265.6 476.5,265.2 476.7,264.8 476.9,265.1 477.1,266.1 477.3,266.7 477.5,267.6 477.7,268.7 477.9,269.9 478.2,272.1 478.4,274.5 478.6,276.7 478.8,279.1 479.1,280.6 479.3,281.2 479.5,282.7 479.7,284.6 479.9,286.3 480.1,288.3 480.3,289.9 480.4,290.9 480.6,291.6 480.7,293.3 480.9,295.4 481.1,296.8 481.3,298.3 481.5,300.0 481.7,301.3 481.9,303.1 482.1,305.2 482.4,306.6 482.7,308.2 483.0,310.2 483.3,311.6 483.7,312.4 484.0,313.8 484.4,316.1 484.8,317.3 485.1,317.3 485.5,318.6 485.9,321.2 486.3,323.3 486.8,324.9 487.2,326.2 487.6,327.7 488.5,330.7 489.4,332.3 490.3,333.0 491.3,332.8 492.3,332.7 493.2,333.9 494.2,335.2 495.5,336.4 496.7,337.4 497.9,338.0 499.3,338.1 500.9,338.8 502.0,339.3 503.2,339.5 504.5,340.2 505.9,341.7 507.3,342.5 508.7,342.3 510.2,342.1 511.8,341.7 513.1,341.9 514.4,342.7 515.8,342.6 517.2,342.3 518.6,342.7 520.1,343.2 521.6,343.5 523.2,343.5 524.8,342.8 526.4,342.2 527.8,341.8 529.2,341.2 530.7,340.4 532.2,339.7 533.7,339.4 535.3,339.6 536.8,340.0 538.4,339.7 540.0,339.1 541.5,339.2 543.1,339.8 544.6,339.8 546.1,339.3 547.6,339.0 549.1,339.0 550.7,338.9 552.2,338.3 553.7,338.0 555.2,338.2 556.7,339.5 558.2,339.4 559.8,338.0 561.3,337.9 562.8,337.8 564.3,337.8 565.8,338.4 567.3,339.2 568.9,339.9 570.4,339.5 571.9,339.2 573.4,339.9 574.9,340.8 576.4,341.2 578.0,340.8 579.5,340.0 581.0,340.2 582.5,340.7 584.0,341.2 585.6,341.8 587.1,341.9 588.6,341.9 590.1,342.1 591.6,342.0 593.2,342.5 594.7,343.6 596.2,343.2 597.7,342.3 599.2,342.4 600.8,342.9 602.4,343.3 604.1,344.3 605.8,345.3 607.5,345.2 609.2,345.1 610.9,345.6 612.4,345.5 613.8,345.3 615.1,345.4 616.1,345.5 617.0,346.0" fill="none" stroke="#ee00ee" stroke-width="3.2" stroke-linejoin="round" stroke-linecap="round"/>
<polyline clip-path="url(#ca)" points="39.4,390.5 40.3,389.7 41.5,390.2 43.0,391.7 44.6,392.7 46.3,392.0 47.9,391.3 49.3,391.4 50.6,391.3 51.9,391.2 53.1,390.8 54.3,390.1 55.5,388.4 56.7,386.2 57.8,385.1 58.9,384.8 60.0,384.6 61.0,383.7 62.0,381.9 63.0,380.3 64.0,379.4 64.9,378.7 66.5,379.4 68.0,381.5 69.3,383.5 70.6,383.2 71.0,381.5 71.3,379.9 71.7,379.0 72.0,377.6 72.3,375.4 72.6,373.8 72.9,372.6 73.2,370.6 73.5,369.0 73.8,367.3 74.0,365.2 74.3,364.6 74.6,362.9 74.9,359.8 75.2,357.2 75.5,355.7 75.8,354.0 76.0,352.0 76.3,351.4 76.6,350.6 76.8,349.3 77.1,348.9 77.4,349.3 77.7,350.4 77.9,351.6 78.2,352.8 78.5,354.9 78.7,356.7 79.0,358.1 79.3,359.9 79.6,361.6 79.9,363.7 80.1,365.8 80.3,367.5 80.4,368.3 80.6,369.3 80.8,370.9 81.0,372.3 81.1,374.2 81.3,376.6 81.5,377.8 81.7,378.7 81.9,380.6 82.2,383.6 82.4,386.7 82.7,388.2 83.0,388.1 83.3,388.2 84.1,389.7 85.1,391.3 86.2,393.3 87.3,395.1 88.4,396.3 89.4,396.0 90.4,395.0 91.6,394.0 92.6,393.0 93.6,392.6 94.7,391.2 96.1,389.6 97.2,389.8 98.3,391.3 99.6,392.7 101.0,393.9 102.3,395.0 103.6,395.3 104.9,395.9 106.0,397.2 107.6,397.9 109.0,397.9 110.3,397.7 111.6,396.6 113.1,394.9 114.0,393.5 115.0,391.9 116.0,391.3 117.0,390.6 118.0,389.6 119.0,388.0 120.0,386.0 120.8,385.4 121.6,385.3 122.9,385.1 123.7,386.2 124.5,388.0 125.8,389.4 126.9,389.4 128.2,388.5 129.6,387.4 131.1,387.3 132.7,388.0 134.3,387.5 135.6,386.5 137.0,385.7 138.5,385.1 140.0,385.0 141.4,383.8 142.9,382.0 144.3,381.9 145.6,382.1 147.2,381.9 148.6,382.7 149.9,383.8 151.3,384.2 152.6,384.6 154.1,384.0 155.5,383.0 156.9,383.0 158.4,381.9 159.9,380.6 161.4,380.7 162.8,380.5 164.1,379.2 165.2,379.3 166.3,380.3 167.2,380.9 168.2,382.5 169.1,385.0 170.0,387.1 171.1,388.5 172.2,389.6 173.4,390.4 174.5,390.5 175.7,390.9 177.0,391.7 178.3,392.8 179.6,394.2 181.0,394.1 182.5,393.6 184.0,394.1 185.5,394.2 187.1,394.7 188.6,396.3 190.0,397.2 191.6,397.3 193.2,397.6 194.8,397.6 196.2,397.0 197.6,396.9 198.9,396.5 200.2,395.3 201.4,394.8 202.4,395.4 203.4,395.1 204.5,393.2 205.6,391.1 206.6,389.5 207.7,388.0 208.8,387.5 210.0,388.1 211.3,388.1 212.6,387.7 214.0,387.5 215.3,387.6 216.7,388.0 217.8,388.7 218.8,389.4 219.8,390.3 220.8,391.4 222.0,392.1 223.4,392.3 224.8,392.9 226.3,393.5 227.8,393.0 229.5,391.6 231.2,391.3 232.9,391.8 234.5,391.8 236.1,391.6 237.7,392.2 239.3,392.7 240.8,392.7 242.4,392.6 244.0,392.2 245.6,392.1 247.0,392.6 248.4,392.7 249.8,392.6 251.2,392.7 252.6,393.3 254.0,393.8 255.4,394.6 256.8,395.3 258.4,395.4 260.0,395.3 261.6,394.7 263.1,394.4 264.7,394.4 266.3,394.4 267.9,394.0 269.5,393.6 271.1,393.8 272.7,394.4 274.2,395.1 275.8,395.0 277.4,394.5 279.0,394.8 280.6,395.0 282.2,394.9 283.8,394.9 285.3,394.0 286.9,393.1 288.5,393.5 290.1,393.7 291.5,393.4 292.9,392.9 294.3,392.9 295.7,393.8 297.1,393.7 298.5,393.4 299.9,393.6 301.3,393.7 302.9,394.2 304.5,394.1 306.1,393.4 307.6,393.8 309.2,395.6 310.8,396.4 312.4,396.0 314.0,396.2 315.6,396.8 317.2,396.7 318.7,396.7 320.3,396.6 321.9,396.2 323.5,396.1 324.9,396.0 326.3,395.4 327.6,394.6 329.0,393.5 330.4,392.5 331.8,392.7 333.2,393.5 334.6,393.8 336.1,392.7 337.7,391.9 339.3,392.9 340.9,393.5 342.5,392.8 344.0,392.3 345.4,391.9 346.7,391.8 348.4,391.3 349.9,389.9 351.1,388.4 352.3,387.6 353.4,387.1 354.7,386.3 355.7,385.3 356.7,384.9 357.8,383.8 358.9,381.8 360.1,380.3 361.3,379.1 362.3,378.4 363.2,379.3 363.9,380.5 364.6,381.9 365.6,383.9 366.6,384.5 367.6,384.1 368.8,384.9 370.0,386.7 371.2,387.9 372.5,388.3 373.8,389.0 375.2,390.1 376.5,391.0 377.9,390.9 379.2,390.1 380.5,389.2 381.9,388.2 383.2,387.4 384.5,386.8 385.8,386.3 387.1,385.8 388.4,385.1 389.7,384.4 391.2,383.5 392.4,382.5 393.6,381.6 395.0,381.3 396.3,381.3 397.7,380.9 398.9,380.6 400.1,379.4 401.1,377.3 402.0,375.5 402.9,373.7 403.8,372.1 404.6,371.0 405.4,370.4 406.1,370.2 406.8,369.3 407.7,367.4 408.3,366.0 408.9,364.3 409.5,363.1 410.2,362.9 411.6,361.9 413.2,361.5 414.6,360.8 415.2,359.6 415.8,358.9 416.4,358.1 416.9,356.3 417.5,354.1 418.0,351.8 418.4,350.8 418.8,350.7 419.1,349.7 419.5,348.4 419.9,347.0 420.3,344.9 420.6,343.0 421.0,341.4 421.3,340.0 421.6,338.5 421.9,337.0 422.1,336.1 422.4,334.6 422.6,332.8 422.8,331.4 423.0,329.7 423.3,327.4 423.5,325.8 423.7,325.1 424.0,323.7 424.2,322.2 424.4,321.4 424.6,320.1 424.9,317.0 425.1,314.5 425.3,313.2 425.5,311.8 425.7,310.2 425.8,309.1 426.0,308.5 426.1,307.6 426.2,305.0 426.3,302.0 426.4,300.2 426.5,298.6 426.5,297.2 426.6,296.5 426.7,295.5 426.9,294.3 427.0,292.6 427.1,290.5 427.3,288.2 427.5,286.3 427.6,284.5 427.8,282.2 428.0,280.8 428.2,280.9 428.5,279.6 428.7,277.2 428.9,275.9 429.2,275.8 429.6,276.4 429.9,276.6 430.3,277.6 430.8,280.4 431.2,282.8 431.6,283.8 432.0,285.3 432.4,287.1 433.1,289.7 433.7,292.3 434.4,293.3 435.0,292.6 435.4,292.1 435.9,290.9 436.3,290.0 436.8,289.3 437.2,287.5 437.6,285.5 437.8,284.6 438.1,283.8 438.3,282.8 438.5,281.7 438.7,279.4 438.9,276.7 439.1,275.0 439.3,273.9 439.5,272.5 439.7,270.6 439.9,269.5 440.2,268.7 440.4,266.4 440.6,264.0 440.8,263.1 441.1,262.1 441.3,260.1 441.5,257.8 441.8,256.4 442.1,255.2 442.4,253.2 442.6,251.1 442.9,249.3 443.2,248.0 443.5,247.7 444.2,246.2 444.9,243.8 445.6,242.4 446.0,242.9 446.4,244.4 446.7,245.8 447.1,246.9 447.5,249.5 447.7,251.7 447.8,252.7 448.0,253.4 448.1,255.0 448.3,256.4 448.5,257.5 448.6,258.8 448.8,260.2 449.0,262.1 449.1,264.9 449.2,267.0 449.4,268.3 449.5,269.5 449.6,270.7 449.7,272.6 449.8,274.6 449.9,276.1 450.0,276.8 450.0,278.0 450.1,279.8 450.2,281.5 450.2,283.1 450.3,284.9 450.4,286.8 450.5,288.4 450.6,289.5 450.7,290.2 450.7,291.3 450.8,293.2 450.9,294.8 451.0,295.9 451.1,297.7 451.1,300.5 451.2,302.1 451.3,303.0 451.4,304.8 451.5,307.2 451.6,309.1 451.7,310.2 451.9,311.2 452.0,312.2 452.1,313.7 452.2,315.4 452.3,316.7 452.5,318.3 452.6,320.3 452.7,321.7 452.9,323.2 453.0,325.9 453.2,328.7 453.3,330.3 453.5,331.0 453.7,331.7 453.8,333.3 454.0,335.9 454.1,338.3 454.3,339.8 454.4,340.5 454.6,341.5 454.7,343.4 454.9,345.0 455.3,347.1 455.7,348.7 456.1,349.8 456.5,351.2 456.9,352.5 457.3,353.4 457.8,354.6 458.4,355.8 459.1,357.3 459.8,359.3 460.5,360.6 461.3,361.3 462.0,362.4 463.1,364.0 464.2,365.2 465.3,366.3 466.3,367.1 467.5,367.9 468.7,369.2 469.8,369.0 470.5,367.5 471.2,366.2 472.0,364.5 472.7,362.9 473.4,362.3 474.1,361.4 474.9,359.5 475.7,358.0 476.3,356.1 476.9,354.3 477.7,353.9 478.3,355.3 479.0,355.9 479.7,355.7 480.5,357.3 480.9,359.2 481.2,360.9 481.6,362.2 482.0,363.9 482.4,366.0 482.9,367.5 483.3,368.3 483.9,369.8 484.6,371.6 485.3,373.3 486.0,374.6 486.8,375.9 487.7,376.9 488.7,377.4 489.7,378.1 490.7,379.1 491.8,379.2 492.9,379.3 494.1,380.3 495.4,381.6 496.5,382.2 497.5,382.9 498.5,383.9 499.3,384.4 500.9,384.6 501.9,384.9 503.0,385.8 504.3,386.3 505.6,386.0 507.1,386.2 508.6,386.7 510.2,387.6 511.8,389.2 513.1,390.0 514.4,389.0 515.8,388.0 517.2,388.4 518.6,389.5 520.1,390.2 521.6,390.2 523.2,389.7 524.8,388.8 526.4,388.5 527.8,389.1 529.2,389.2 530.7,388.5 532.2,388.3 533.7,388.4 535.3,388.2 536.8,388.2 538.4,387.9 540.0,387.7 541.5,387.9 543.1,387.9 544.6,387.4 546.1,387.2 547.6,387.3 549.1,386.5 550.7,385.8 552.2,385.8 553.7,386.1 555.2,385.5 556.7,384.9 558.2,386.7 559.8,388.1 561.3,387.0 562.8,385.9 564.3,385.8 565.8,385.7 567.3,386.4 568.9,386.8 570.4,385.9 571.9,386.1 573.4,386.8 574.9,387.4 576.4,388.3 578.0,388.3 579.5,388.0 581.0,388.1 582.5,388.1 584.0,388.5 585.6,389.1 587.1,388.6 588.6,388.7 590.1,389.2 591.6,389.6 593.2,390.3 594.7,390.1 596.2,390.3 597.7,390.6 599.2,390.3 600.8,390.7 602.4,390.2 604.1,390.0 605.8,391.1 607.5,391.5 609.2,390.8 610.9,390.4 612.4,390.3 613.8,390.3 615.1,390.3 616.1,390.1 617.0,389.6" fill="none" stroke="#808000" stroke-width="3.2" stroke-linejoin="round" stroke-linecap="round"/>
<polyline clip-path="url(#cb)" points="678.4,63.0 679.4,62.7 680.8,61.7 682.4,60.5 684.1,59.6 685.7,59.8 687.2,60.6 688.7,61.1 690.2,61.6 691.6,61.9 693.0,62.2 694.3,62.2 695.5,62.4 696.6,63.7 697.8,64.7 699.1,64.2 700.5,62.9 702.1,62.1 703.6,62.2 705.1,62.6 706.4,63.1 707.5,63.9 708.4,64.7 709.3,65.6 710.2,66.9 711.2,68.0 712.3,69.1 713.5,70.9 714.7,72.2 716.0,72.7 717.3,72.6 718.7,72.6 720.1,73.2 721.6,73.9 723.1,74.5 724.6,74.7 726.1,74.6 727.5,74.9 729.0,76.2 730.4,77.4 731.9,77.7 733.3,78.2 734.7,78.5 736.1,78.2 737.6,79.2 739.2,79.6 740.5,78.6 741.8,78.7 743.2,79.1 744.6,79.1 746.1,79.4 747.5,79.1 748.9,78.8 750.3,79.7 751.7,80.5 753.1,80.9 754.4,81.1 755.8,80.7 757.2,79.9 758.6,79.6 760.0,79.8 761.4,79.4 762.9,78.5 764.3,77.9 765.7,77.6 767.0,78.2 768.3,78.4 769.9,77.5 771.4,77.9 772.8,80.0 774.2,81.5 775.6,81.0 777.0,79.3 778.4,78.9 779.8,79.9 781.3,79.7 782.9,79.5 784.2,80.5 785.5,80.7 786.9,80.1 788.3,79.7 789.8,80.0 791.2,80.3 792.6,79.8 794.0,79.3 795.4,78.5 796.8,77.9 798.2,78.6 799.6,78.9 801.0,77.8 802.4,76.6 803.8,77.1 805.2,77.7 806.6,77.3 807.9,78.0 809.3,78.7 810.7,78.7 812.1,79.6 813.5,79.7 814.9,79.2 816.3,79.5 817.6,79.7 819.0,79.8 820.4,79.8 821.8,79.2 823.2,79.4 824.6,80.0 826.0,79.7 827.3,79.5 828.7,80.5 830.1,80.9 831.5,79.9 832.9,79.4 834.3,80.1 835.7,80.6 837.0,81.3 838.4,81.8 839.8,81.8 841.2,81.9 842.6,81.3 844.0,81.3 845.4,82.3 846.8,82.9 848.2,82.7 849.6,82.3 851.0,82.0 852.4,82.1 853.8,82.2 855.2,82.2 856.5,82.4 857.9,82.6 859.3,82.7 860.7,83.1 862.1,83.7 863.5,84.1 864.9,83.5 866.3,82.8 867.7,82.9 869.0,83.6 870.4,84.1 871.7,84.2 873.1,85.1 874.4,85.4 875.7,84.2 877.0,84.7 878.4,86.3 879.7,87.1 881.1,87.1 882.4,87.1 883.8,87.5 885.2,87.5 886.6,87.8 888.0,88.7 889.4,88.1 890.8,87.2 892.2,87.1 893.6,87.2 895.0,86.5 896.4,85.7 897.8,86.6 899.2,87.5 900.6,87.1 902.0,87.6 903.4,88.6 904.7,89.2 906.1,88.8 907.5,87.8 908.9,87.8 910.3,88.7 911.7,89.5 913.1,89.2 914.4,88.5 915.8,89.0 917.2,89.4 918.6,89.4 920.0,89.3 921.4,89.9 922.8,90.5 924.1,90.1 925.5,90.0 926.9,90.3 928.3,90.1 929.7,90.3 931.1,91.3 932.5,91.3 933.8,91.5 935.2,91.9 936.6,91.3 938.0,91.1 939.4,91.1 940.8,91.0 942.2,91.0 943.6,90.8 945.0,90.0 946.4,88.8 947.8,88.7 949.2,89.5 950.6,89.3 952.0,89.0 953.3,89.7 954.7,91.2 956.1,92.1 957.5,91.8 958.9,90.9 960.3,90.5 961.7,90.6 963.0,91.6 964.4,91.9 965.8,91.4 967.2,91.9 968.6,92.0 970.0,90.7 971.4,90.4 972.7,91.5 974.1,91.6 975.5,91.2 976.9,91.7 978.3,92.3 979.7,92.2 981.1,91.7 982.4,92.3 983.8,93.1 985.2,92.7 986.6,91.6 988.0,91.3 989.4,91.9 990.8,91.9 992.2,92.0 993.6,92.3 995.0,91.1 996.4,90.0 997.8,90.1 999.2,90.5 1000.6,91.4 1001.9,91.5 1003.3,91.0 1004.7,91.2 1006.1,91.5 1007.5,91.5 1008.9,91.4 1010.3,91.0 1011.6,91.2 1013.0,91.6 1014.4,91.0 1015.8,90.1 1017.2,89.6 1018.6,88.9 1020.0,88.6 1021.3,89.4 1022.7,90.4 1024.1,90.5 1025.5,90.6 1026.9,90.9 1028.3,90.7 1029.7,90.5 1031.0,91.1 1032.4,91.6 1033.8,91.1 1035.2,91.1 1036.6,91.3 1038.0,90.6 1039.4,90.1 1040.8,90.9 1042.2,91.5 1043.6,91.0 1045.0,91.7 1046.4,93.3 1047.9,93.9 1049.4,94.2 1050.9,94.8 1052.3,94.9 1053.5,94.4 1054.7,94.5 1056.2,95.9 1057.3,97.0 1058.5,96.9 1060.0,96.9 1061.2,97.2 1062.5,97.8 1064.0,98.8 1065.5,99.8 1067.0,100.3 1068.4,100.5 1069.7,101.3 1071.3,101.4 1072.7,101.1 1074.0,101.8 1075.4,101.3 1077.0,100.4 1078.2,101.2 1079.5,102.3 1080.9,102.9 1082.2,103.8 1083.7,104.5 1085.2,104.7 1086.7,105.1 1088.1,105.7 1089.5,105.7 1091.0,104.9 1092.5,104.4 1094.0,105.7 1095.6,106.5 1097.2,105.9 1098.9,106.3 1100.3,106.8 1101.7,106.3 1103.1,107.4 1104.6,108.5 1106.1,107.9 1107.6,108.5 1109.1,109.4 1110.5,109.0 1112.0,109.2 1113.5,109.2 1115.0,108.6 1116.4,108.8 1117.9,109.4 1119.3,109.5 1120.8,109.1 1122.2,108.5 1123.6,108.2 1125.1,108.6 1126.5,109.2 1128.0,108.9 1129.5,108.1 1130.9,108.8 1132.4,110.3 1133.8,110.3 1135.3,108.7 1136.8,107.6 1138.2,108.5 1139.7,109.6 1141.1,109.9 1142.6,109.5 1144.1,109.1 1145.5,108.7 1147.0,108.5 1148.4,109.4 1149.9,109.7 1151.4,109.6 1152.8,110.7 1154.3,110.8 1155.7,109.5 1157.2,109.3 1158.7,110.1 1160.1,110.1 1161.6,109.6 1163.0,110.0 1164.5,111.3 1166.0,110.9 1167.4,109.3 1168.9,109.4 1170.3,110.9 1171.8,111.5 1173.3,111.5 1174.7,110.7 1176.2,109.8 1177.6,109.4 1179.1,108.7 1180.6,109.0 1182.0,110.0 1183.5,110.1 1184.9,109.8 1186.4,109.9 1187.9,110.3 1189.4,110.4 1190.9,110.2 1192.4,109.8 1193.9,109.6 1195.3,109.7 1196.8,109.2 1198.2,108.4 1199.6,108.3 1201.0,108.6 1202.6,108.6 1204.3,108.6 1205.8,108.5 1207.4,108.3 1208.8,107.7 1210.3,107.3 1211.7,107.9 1213.1,108.4 1214.6,107.9 1216.0,107.2 1217.4,106.7 1218.8,105.6 1220.1,105.0 1221.4,105.4 1222.8,105.8 1224.2,106.0 1225.6,105.2 1227.0,104.6 1228.3,106.1 1229.7,107.8 1231.1,107.5 1232.5,106.9 1233.9,107.7 1235.2,109.0 1236.6,109.6 1237.9,110.2 1239.3,111.0 1240.8,111.1 1242.3,110.9 1243.8,111.4 1245.4,112.0 1247.2,112.0 1249.0,111.2 1250.6,110.2 1252.2,110.4 1253.5,110.8 1254.4,110.5" fill="none" stroke="#000" stroke-width="3.2" stroke-linejoin="round" stroke-linecap="round"/>
<polyline clip-path="url(#cb)" points="678.0,151.6 678.9,152.0 680.2,151.1 681.7,149.8 683.3,148.9 684.6,148.3 686.0,147.8 687.4,147.0 689.0,146.2 690.6,145.9 691.8,146.3 693.1,147.4 694.5,148.6 695.8,149.4 697.3,149.4 698.8,149.6 700.3,150.0 701.7,149.6 703.2,149.6 704.7,150.7 706.2,151.4 707.8,151.7 709.4,152.9 711.0,154.6 712.5,154.7 714.0,153.8 715.5,153.8 717.0,154.4 718.5,155.0 720.1,155.4 721.6,155.3 723.1,156.0 724.6,156.9 726.1,156.8 727.6,157.1 729.2,157.9 730.7,158.3 732.2,158.2 733.8,159.1 735.3,159.4 736.8,158.1 738.2,158.0 739.5,158.7 740.8,158.4 742.1,158.6 743.5,159.9 745.0,160.5 746.8,160.5 748.9,160.5 750.1,159.9 751.4,158.4 752.7,157.9 754.1,158.7 755.6,158.9 757.1,159.2 758.7,159.2 760.3,158.6 761.9,159.3 763.6,160.5 765.2,159.8 766.8,158.6 768.5,158.7 770.1,159.4 771.7,159.9 773.2,159.9 774.7,159.5 776.2,159.5 777.8,159.5 779.3,159.2 780.8,159.9 782.3,160.0 783.8,159.3 785.4,159.2 786.9,159.2 788.4,158.3 789.9,158.1 791.4,159.8 792.9,160.7 794.5,160.2 796.0,159.8 797.5,159.5 799.0,159.3 800.5,159.9 802.1,160.3 803.6,160.1 805.1,159.7 806.6,159.2 808.1,159.0 809.6,158.7 811.2,158.7 812.7,159.1 814.2,159.3 815.7,159.6 817.2,159.0 818.8,158.6 820.3,158.6 821.8,158.0 823.3,158.1 824.8,158.6 826.4,158.7 827.9,158.8 829.4,158.4 830.9,158.3 832.5,158.8 834.0,158.6 835.5,158.2 837.0,158.5 838.5,158.8 840.1,158.7 841.6,158.5 843.1,158.5 844.6,159.0 846.1,159.3 847.6,159.0 849.2,158.8 850.8,158.7 852.4,159.1 854.1,159.1 855.7,157.8 857.3,156.7 859.0,156.0 860.5,155.6 862.1,155.7 863.6,156.1 865.0,156.5 866.4,156.1 867.7,155.3 868.9,154.6 870.0,154.4 872.1,154.7 873.8,154.6 875.2,154.0 876.3,154.5 877.3,155.3 878.4,155.7 879.7,155.7 881.1,155.4 882.5,155.3 883.9,154.8 885.2,154.4 886.6,154.8 888.0,155.0 889.4,155.2 890.8,156.4 892.2,157.6 893.6,157.4 895.0,156.3 896.4,155.7 897.8,155.9 899.2,156.2 900.6,156.8 902.0,157.1 903.4,156.2 904.7,155.6 906.1,156.2 907.5,156.4 908.9,155.9 910.3,155.8 911.7,155.9 913.1,154.9 914.4,154.7 915.8,154.3 917.2,152.9 918.6,152.6 920.0,153.4 921.4,154.6 922.8,154.3 924.1,152.6 925.5,151.5 926.9,151.7 928.3,152.4 929.7,152.6 931.1,152.6 932.5,151.9 933.8,151.9 935.2,153.1 936.6,152.9 938.0,151.9 939.4,152.3 940.8,153.3 942.2,153.1 943.6,152.7 945.0,153.2 946.4,153.2 947.8,152.8 949.2,152.3 950.6,152.4 952.0,152.8 953.3,152.3 954.7,152.4 956.1,152.5 957.5,152.5 958.9,152.9 960.3,152.6 961.7,152.0 963.0,152.3 964.4,152.5 965.8,151.9 967.2,151.1 968.6,150.9 970.0,150.4 971.4,149.5 972.7,150.0 974.1,150.5 975.5,149.6 976.9,149.4 978.1,149.4 979.4,148.1 980.6,146.8 981.9,146.2 983.1,145.4 984.3,144.5 985.5,143.8 986.6,143.1 987.8,141.8 988.9,140.2 990.0,139.5 991.0,139.7 992.0,138.0 992.9,136.0 993.9,135.8 994.8,135.0 995.8,134.1 996.7,133.0 997.5,131.0 998.4,128.8 999.2,127.4 1000.0,127.7 1001.3,126.9 1002.5,125.1 1003.6,124.7 1004.9,124.8 1006.0,124.3 1007.3,123.9 1008.5,124.5 1009.8,126.1 1010.9,127.1 1011.9,126.9 1012.9,127.1 1013.8,128.5 1014.8,129.8 1015.8,130.4 1016.7,131.2 1017.7,132.5 1018.6,134.3 1019.6,136.1 1020.7,137.3 1021.9,138.5 1023.0,139.2 1024.1,140.0 1025.3,140.6 1026.5,141.4 1027.8,142.8 1029.1,143.8 1030.4,144.4 1031.6,145.6 1032.7,146.6 1033.9,147.4 1035.2,148.8 1036.4,150.4 1037.6,151.8 1038.9,152.7 1040.1,152.9 1041.5,152.6 1042.8,152.3 1044.1,152.9 1045.5,153.5 1046.8,153.1 1048.3,153.6 1049.8,154.9 1051.2,154.6 1052.7,153.4 1054.2,153.2 1055.7,154.8 1057.3,156.6 1058.9,156.6 1060.4,156.5 1062.0,156.6 1063.5,156.4 1065.1,156.6 1066.6,156.7 1068.1,156.9 1069.7,157.2 1071.3,156.6 1072.9,156.2 1074.6,156.8 1076.0,157.4 1077.4,157.6 1078.8,157.4 1080.3,156.3 1081.8,155.0 1083.3,154.5 1084.8,155.2 1086.3,156.3 1087.7,156.3 1089.2,155.5 1090.7,155.7 1092.1,156.2 1093.6,155.7 1095.1,155.5 1096.6,155.3 1098.1,155.0 1099.5,155.2 1100.9,155.1 1102.3,154.7 1103.7,154.3 1105.4,154.3 1107.0,154.3 1108.6,153.0 1110.2,151.6 1111.7,151.5 1113.2,151.5 1114.6,151.4 1115.9,150.9 1117.5,150.6 1119.0,151.1 1120.4,151.0 1121.7,150.9 1123.0,150.6 1124.4,150.2 1125.8,150.4 1127.1,150.9 1128.4,151.8 1129.8,153.0 1131.3,153.8 1132.9,153.5 1134.2,152.5 1135.7,152.9 1137.2,153.4 1138.8,153.4 1140.4,153.6 1142.0,153.5 1143.6,153.1 1145.1,153.6 1146.6,154.7 1148.1,155.3 1149.5,155.6 1151.0,155.2 1152.5,155.1 1154.0,155.7 1155.6,156.4 1157.2,156.6 1158.6,156.5 1160.0,156.8 1161.4,156.6 1162.9,156.1 1164.3,156.2 1165.8,156.7 1167.3,157.5 1168.8,157.8 1170.3,157.3 1171.8,156.9 1173.3,157.2 1174.7,157.0 1176.2,156.9 1177.6,157.1 1179.1,156.8 1180.6,156.5 1182.0,156.2 1183.5,156.4 1184.9,156.8 1186.4,156.5 1187.9,156.6 1189.3,157.3 1190.8,157.6 1192.2,157.7 1193.7,157.8 1195.2,157.4 1196.6,157.0 1198.1,157.1 1199.5,157.3 1201.0,157.0 1202.5,156.8 1203.9,156.9 1205.4,157.5 1206.8,157.9 1208.3,157.6 1209.7,157.4 1211.1,157.5 1212.6,157.8 1214.0,157.6 1215.5,157.4 1217.0,158.3 1218.5,158.9 1220.0,158.8 1221.6,158.2 1223.1,157.3 1224.6,156.6 1226.1,156.4 1227.5,156.5 1228.8,156.7 1230.1,156.4 1231.8,156.2 1233.3,155.8 1234.8,155.0 1236.2,154.0 1237.4,154.0 1238.6,154.6 1239.8,153.2 1241.3,150.8 1242.6,149.8 1243.7,150.0 1244.8,150.3 1245.9,149.2 1247.2,148.7 1248.5,149.1 1249.7,149.1 1250.8,150.7 1252.2,152.5 1253.5,152.7 1254.4,153.1" fill="none" stroke="#e02800" stroke-width="3.2" stroke-linejoin="round" stroke-linecap="round"/>
<polyline clip-path="url(#cb)" points="678.0,213.0 679.0,213.8 680.4,214.6 682.1,214.7 683.9,214.1 685.7,213.1 687.0,212.6 688.3,211.9 689.7,211.1 691.1,211.5 692.6,212.1 694.0,211.7 695.4,210.8 696.8,210.3 698.3,210.3 699.7,210.2 701.2,210.3 702.6,209.9 703.9,209.0 705.2,209.2 706.5,209.5 707.6,209.9 708.7,211.1 709.8,212.9 711.0,213.9 712.5,214.0 713.8,213.4 715.2,213.4 716.7,214.4 718.2,215.3 719.8,215.9 721.5,216.3 723.0,216.9 724.6,217.9 726.1,218.6 727.6,218.9 729.2,218.5 730.7,217.9 732.2,218.3 733.8,219.4 735.3,220.0 736.8,219.8 738.3,219.6 739.8,219.3 741.3,219.1 742.9,218.7 744.4,218.0 745.9,218.3 747.4,219.1 748.9,219.7 750.4,220.1 751.9,220.0 753.5,219.6 755.0,218.7 756.5,217.9 758.1,218.3 759.6,218.9 761.1,219.2 762.6,219.3 764.2,219.2 765.7,219.3 767.2,219.2 768.8,218.7 770.3,219.5 771.7,221.1 773.2,221.4 774.8,221.0 776.5,221.1 778.1,222.4 779.7,223.9 781.2,223.4 782.7,222.3 784.1,221.4 785.6,220.8 787.0,221.7 788.3,222.6 789.6,222.1 791.0,221.0 792.6,219.9 793.9,219.5 795.4,219.8 796.9,219.6 798.5,219.8 800.1,220.4 801.7,219.8 803.3,218.8 804.8,219.0 806.3,220.3 807.8,220.5 809.3,220.2 810.9,220.2 812.4,219.9 813.9,220.0 815.4,220.3 816.9,220.2 818.4,220.6 819.9,221.1 821.5,221.0 823.0,220.9 824.5,220.7 826.1,220.3 827.6,219.5 829.1,218.5 830.6,217.8 832.1,217.5 833.5,217.5 835.0,217.3 836.5,217.2 838.0,218.3 839.6,218.9 841.2,218.0 842.6,217.9 844.0,218.0 845.6,217.5 847.1,217.5 848.6,217.9 850.2,218.2 851.7,218.9 853.2,220.0 854.5,220.1 855.8,220.0 857.5,220.2 859.1,219.3 860.6,217.9 862.0,217.2 863.3,216.7 864.4,216.4 865.5,215.7 866.8,213.7 867.6,212.8 868.5,213.4 870.0,213.6 871.2,213.3 872.5,213.5 874.0,214.1 875.6,214.0 877.3,213.4 879.0,212.8 880.6,212.7 882.2,213.5 883.7,213.6 885.2,213.4 886.7,213.9 888.3,214.0 889.8,213.6 891.3,213.7 892.8,214.5 894.3,214.7 895.8,214.9 897.3,215.1 898.9,214.9 900.4,215.0 901.9,215.1 903.5,215.2 905.0,215.2 906.5,215.1 908.0,215.2 909.5,214.6 911.0,213.7 912.5,213.6 914.1,213.3 915.6,212.4 917.1,211.4 918.6,211.1 920.1,210.8 921.6,212.0 923.2,213.7 924.7,213.4 926.2,212.4 927.8,211.4 929.3,211.0 930.8,211.5 932.3,211.9 933.8,211.5 935.3,210.8 936.9,210.6 938.4,211.2 939.9,211.9 941.4,211.4 942.9,210.7 944.5,210.5 946.1,210.0 947.8,210.0 949.5,211.1 951.1,212.0 952.6,211.3 953.9,210.9 955.1,211.6 956.8,212.1 957.8,212.1 958.7,211.0 960.0,209.8 961.2,209.8 962.5,209.2 963.8,208.0 965.3,207.3 966.7,206.6 968.1,206.1 969.5,206.0 970.9,205.2 972.3,203.9 973.6,203.2 975.0,202.9 976.2,201.6 977.3,200.0 978.4,199.8 979.4,199.5 980.4,197.8 981.4,196.4 982.3,196.7 983.4,196.3 984.4,193.9 985.3,191.3 986.3,191.0 987.3,191.0 987.8,190.0 988.3,188.7 988.8,187.4 989.3,186.1 989.8,185.0 990.4,183.1 990.9,181.3 991.4,179.7 991.9,178.7 992.4,177.4 992.9,174.6 993.4,172.7 993.9,171.8 994.4,170.1 994.9,168.4 995.4,167.2 995.9,166.3 996.4,165.1 996.9,163.5 997.4,161.8 998.0,159.6 998.7,157.9 999.3,157.5 1000.0,156.6 1000.6,155.0 1001.2,153.6 1001.8,152.4 1002.4,152.0 1003.5,151.1 1004.6,149.2 1005.6,148.4 1006.6,148.9 1007.6,149.2 1008.7,150.3 1009.7,152.6 1010.5,154.2 1011.0,154.8 1011.3,155.6 1011.6,156.6 1012.0,158.0 1012.6,159.7 1013.0,160.9 1013.5,162.5 1014.0,163.9 1014.6,165.5 1015.2,166.6 1015.8,167.8 1016.5,170.0 1017.1,172.4 1017.7,173.7 1018.2,174.9 1018.7,176.5 1019.4,178.3 1020.0,179.2 1020.5,180.3 1021.0,182.1 1021.5,183.6 1022.1,184.9 1022.8,186.6 1023.7,188.3 1024.7,189.6 1025.7,190.6 1026.7,191.4 1027.8,191.5 1028.8,191.9 1029.8,192.8 1030.9,193.6 1031.9,194.7 1032.9,196.5 1033.9,197.2 1034.9,197.4 1036.0,198.7 1037.0,199.9 1038.0,200.7 1039.0,202.4 1040.0,204.2 1041.0,204.6 1041.9,205.0 1042.8,206.7 1043.9,208.6 1045.0,210.1 1046.3,210.4 1047.6,210.5 1049.1,210.7 1050.6,210.8 1052.3,211.4 1053.6,212.8 1055.0,214.0 1056.4,214.1 1057.9,214.1 1059.3,214.4 1060.7,214.8 1062.0,215.5 1063.6,215.1 1065.1,213.6 1066.6,213.6 1068.1,214.6 1069.7,215.2 1071.0,215.5 1072.3,216.4 1073.6,217.0 1075.0,216.9 1076.4,217.1 1077.9,217.6 1079.4,218.1 1080.8,218.6 1082.3,218.7 1083.8,218.0 1085.4,217.4 1086.9,217.7 1088.5,217.8 1090.1,217.5 1091.6,217.5 1093.1,217.1 1094.7,217.0 1096.2,217.3 1097.8,217.2 1099.3,217.3 1100.8,217.5 1102.3,217.1 1103.7,217.5 1105.2,217.9 1106.7,217.7 1108.1,216.9 1109.4,215.7 1110.8,215.1 1112.1,215.1 1113.5,215.2 1114.9,215.1 1116.3,215.1 1117.7,214.8 1119.0,213.5 1120.4,212.6 1121.8,212.7 1123.2,212.1 1124.6,211.2 1125.9,211.7 1127.2,213.1 1128.6,213.7 1129.9,213.6 1131.4,214.3 1132.9,214.9 1134.3,214.5 1135.8,215.4 1137.3,216.0 1138.9,216.1 1140.4,216.9 1142.0,217.3 1143.6,216.9 1145.1,217.1 1146.6,218.4 1148.1,219.2 1149.6,219.5 1151.2,219.7 1152.7,219.1 1154.2,219.3 1155.7,220.1 1157.2,219.9 1158.7,219.3 1160.2,219.4 1161.8,218.8 1163.3,217.9 1164.8,218.0 1166.4,218.2 1167.9,218.8 1169.4,219.5 1170.9,220.0 1172.4,220.7 1173.9,220.4 1175.5,219.6 1177.0,219.8 1178.5,220.1 1180.0,220.2 1181.5,220.8 1183.0,221.4 1184.5,221.6 1186.1,221.4 1187.6,221.0 1189.1,220.8 1190.7,221.2 1192.2,221.7 1193.7,222.0 1195.2,222.0 1196.7,221.8 1198.2,221.7 1199.8,221.7 1201.3,221.3 1202.8,221.2 1204.3,222.0 1205.8,222.3 1207.3,222.0 1208.8,222.8 1210.4,223.7 1211.9,223.5 1213.4,222.7 1215.0,222.7 1216.5,223.3 1218.0,223.7 1219.5,223.5 1221.1,222.5 1222.7,222.2 1224.2,222.6 1225.7,222.1 1227.2,222.2 1228.7,222.8 1230.1,222.5 1231.6,221.9 1233.2,221.9 1234.6,222.2 1236.0,222.4 1237.4,221.9 1238.6,221.5 1239.8,221.8 1241.3,220.7 1242.5,218.9 1243.6,217.5 1244.7,216.5 1245.9,216.2 1247.2,216.7 1248.5,217.8 1249.8,218.9 1251.0,219.4 1252.0,219.2 1253.6,219.5 1254.4,219.8" fill="none" stroke="#1e1ea4" stroke-width="3.2" stroke-linejoin="round" stroke-linecap="round"/>
<polyline clip-path="url(#cb)" points="678.0,276.0 679.0,275.9 680.4,275.7 682.1,275.7 683.9,275.3 685.7,274.3 687.0,274.3 688.3,274.5 689.6,274.5 691.0,274.9 692.4,275.9 693.9,276.7 695.4,276.1 696.8,275.4 698.4,275.1 700.0,274.2 701.7,274.0 703.3,274.2 704.8,273.7 706.3,273.1 707.6,273.0 709.3,273.7 710.8,275.3 712.0,277.1 713.4,277.7 714.9,277.0 716.1,276.6 717.4,277.3 718.8,278.0 720.1,278.6 721.6,279.0 723.1,278.7 724.6,279.0 726.0,280.0 727.5,280.5 729.0,280.6 730.6,280.6 732.1,280.2 733.7,279.7 735.3,280.2 736.8,281.4 738.3,281.9 739.8,281.7 741.3,281.3 742.9,281.0 744.4,281.4 745.9,281.6 747.4,281.7 748.9,282.3 750.4,282.2 751.9,282.0 753.5,282.3 755.0,282.6 756.5,282.9 758.1,283.1 759.6,283.3 761.1,284.1 762.6,284.7 764.1,284.1 765.6,283.0 767.2,282.7 768.7,282.9 770.2,283.1 771.7,283.4 773.2,283.1 774.7,282.5 776.2,282.1 777.8,281.7 779.3,280.9 780.8,280.6 782.4,280.9 783.9,280.7 785.4,280.9 786.9,282.0 788.4,282.3 789.9,281.4 791.4,281.0 793.0,281.5 794.5,281.8 796.0,281.2 797.5,280.3 799.0,280.5 800.5,280.8 802.1,280.3 803.6,280.6 805.1,281.4 806.7,281.0 808.2,280.1 809.7,279.7 811.2,279.5 812.7,279.1 814.2,279.1 815.8,279.2 817.3,279.1 818.8,278.5 820.3,278.2 821.8,278.4 823.3,278.0 824.8,277.7 826.4,278.6 827.9,279.1 829.4,279.3 831.0,279.7 832.5,279.4 834.0,279.2 835.5,279.2 837.0,279.4 838.5,279.5 840.0,279.2 841.6,278.2 843.1,277.5 844.6,277.4 846.1,277.2 847.6,277.1 849.2,276.6 850.8,275.8 852.3,275.9 853.9,275.8 855.4,275.0 856.9,275.1 858.3,275.9 859.9,275.8 861.4,274.4 862.9,273.6 864.3,273.1 865.7,273.0 866.9,273.0 868.0,272.6 869.4,271.6 870.4,269.7 871.4,269.2 872.8,270.2 874.1,269.9 875.5,270.1 877.0,271.9 878.7,272.5 880.4,271.5 882.2,271.1 883.6,272.1 885.0,272.6 886.5,272.4 888.1,272.0 889.6,271.4 891.2,271.9 892.8,273.1 894.3,273.7 895.8,273.6 897.3,273.1 898.9,272.8 900.4,273.2 901.9,273.3 903.5,271.9 905.0,270.6 906.5,270.6 907.8,270.2 909.2,269.1 910.5,268.9 911.9,269.1 913.2,268.5 914.6,267.7 915.9,267.5 917.3,267.4 918.6,266.6 920.0,265.3 921.3,264.1 922.7,264.0 924.0,264.1 925.4,263.5 926.7,263.3 928.1,262.9 929.4,262.1 930.8,261.5 932.4,261.1 933.9,260.9 935.6,259.8 937.2,258.5 938.7,258.8 940.2,259.1 941.6,258.2 942.9,258.0 944.6,258.8 946.1,259.5 947.3,260.0 948.7,260.7 950.2,260.6 951.5,260.3 952.8,260.3 954.3,260.4 955.7,260.0 957.2,259.5 958.6,259.5 959.9,259.2 961.2,258.2 962.4,257.1 963.5,256.9 964.7,256.5 965.8,255.6 966.9,254.2 968.1,252.3 969.3,250.9 970.5,250.1 971.7,249.5 972.9,248.0 974.0,246.4 975.1,245.9 976.2,245.4 977.1,244.3 977.9,243.1 978.7,241.1 979.5,239.0 980.3,238.7 981.0,238.5 981.7,236.8 982.3,234.7 983.1,232.8 983.8,232.2 984.4,231.9 985.0,230.3 985.7,228.7 986.3,227.2 986.8,225.6 987.3,223.2 987.8,221.3 988.3,220.5 988.9,218.9 989.4,216.6 989.9,215.6 990.4,214.8 990.8,213.3 991.2,211.3 991.6,209.3 992.0,208.0 992.4,207.3 992.8,206.7 993.2,205.5 993.6,203.4 994.0,200.9 994.4,199.4 994.8,198.9 995.1,198.0 995.5,196.5 995.9,194.3 996.3,192.7 996.6,191.4 997.0,189.5 997.4,188.2 997.8,187.9 998.1,186.7 998.5,184.2 999.1,181.5 999.6,179.3 1000.2,177.7 1000.7,177.9 1001.3,177.8 1001.9,175.8 1002.5,173.6 1003.4,171.9 1004.4,171.2 1005.4,171.0 1006.4,171.0 1007.3,171.3 1008.4,171.6 1009.6,172.2 1010.6,172.7 1011.6,172.9 1012.1,174.0 1012.5,176.1 1013.0,177.3 1013.4,178.9 1013.8,181.1 1014.2,183.1 1014.7,184.8 1015.0,185.8 1015.4,187.1 1015.7,189.0 1016.1,190.5 1016.5,191.5 1016.8,193.0 1017.2,194.6 1017.6,195.7 1018.0,196.8 1018.3,198.3 1018.7,200.3 1019.1,202.3 1019.4,204.1 1019.8,205.6 1020.1,206.3 1020.5,207.3 1020.9,208.7 1021.2,210.0 1021.6,212.8 1022.0,214.8 1022.4,215.1 1022.8,215.6 1023.2,216.8 1023.6,218.9 1024.1,221.1 1024.5,223.0 1024.9,224.6 1025.4,226.2 1025.9,228.3 1026.3,229.6 1026.8,230.5 1027.3,231.6 1027.8,231.9 1028.4,232.8 1029.1,235.3 1029.8,237.8 1030.4,238.6 1031.1,239.4 1031.8,241.2 1032.5,243.0 1033.2,244.7 1033.9,245.9 1034.9,246.5 1036.0,247.1 1037.0,247.8 1038.0,248.5 1039.0,249.4 1040.0,250.6 1041.0,252.3 1041.9,253.6 1042.7,254.2 1043.7,254.7 1045.0,255.3 1046.1,256.0 1047.4,257.5 1048.8,258.7 1050.3,259.4 1051.8,259.1 1053.3,259.4 1054.7,260.8 1056.1,260.9 1057.6,260.2 1059.1,259.9 1060.6,260.8 1061.9,262.7 1063.2,263.8 1064.4,264.4 1065.9,265.8 1067.0,266.5 1068.2,266.7 1069.7,266.6 1070.8,266.4 1072.1,266.9 1073.4,267.8 1074.8,268.1 1076.3,268.0 1077.8,268.1 1079.4,268.1 1080.8,267.3 1082.3,266.5 1083.8,267.5 1085.4,268.4 1087.0,268.2 1088.6,267.4 1090.1,266.5 1091.6,266.6 1093.3,267.4 1094.9,267.8 1096.6,268.4 1098.2,268.5 1099.8,268.3 1101.2,269.0 1102.5,269.6 1104.0,268.3 1105.2,266.6 1106.3,266.0 1107.4,265.3 1108.6,264.4 1109.7,263.7 1110.9,262.7 1112.2,261.4 1113.4,260.8 1114.7,260.5 1115.9,259.7 1117.4,258.7 1118.8,258.3 1120.3,258.3 1121.7,258.1 1123.2,257.2 1124.6,256.1 1126.0,256.3 1127.4,257.6 1128.9,258.6 1130.5,258.9 1131.6,259.3 1132.8,260.4 1134.0,261.0 1135.2,261.5 1136.5,262.4 1137.7,263.4 1139.0,264.9 1140.2,265.9 1141.6,266.0 1142.9,266.5 1144.2,267.6 1145.6,268.1 1146.9,268.7 1148.4,269.3 1149.9,270.5 1151.3,271.9 1152.8,272.5 1154.3,273.0 1155.9,273.3 1157.4,272.4 1159.0,271.9 1160.6,273.2 1162.1,273.7 1163.6,273.0 1165.1,273.7 1166.6,275.2 1168.2,275.8 1169.7,275.6 1171.2,275.4 1172.7,275.9 1174.2,276.3 1175.7,276.2 1177.2,275.8 1178.8,275.6 1180.3,275.3 1181.8,275.8 1183.4,276.7 1184.9,277.1 1186.4,277.1 1187.9,277.5 1189.4,278.2 1190.9,278.0 1192.5,277.8 1194.0,278.9 1195.5,279.7 1197.0,279.1 1198.5,279.0 1200.0,280.0 1201.5,279.8 1203.1,278.9 1204.6,279.4 1206.1,280.7 1207.7,281.6 1209.2,280.9 1210.7,280.2 1212.2,281.2 1213.7,281.3 1215.2,280.3 1216.8,280.5 1218.3,281.3 1219.8,281.8 1221.3,281.6 1222.8,281.0 1224.3,281.1 1225.9,280.7 1227.5,279.7 1229.1,279.9 1230.6,281.0 1232.1,281.8 1233.6,281.8 1235.0,280.9 1236.5,279.8 1238.0,279.4 1239.3,279.5 1240.7,278.7 1242.0,278.4 1243.3,278.7 1244.7,279.3 1246.2,280.0 1247.8,278.9 1249.4,277.8 1250.9,278.7 1252.3,279.3 1253.5,279.3 1254.4,279.9" fill="none" stroke="#108a60" stroke-width="3.2" stroke-linejoin="round" stroke-linecap="round"/>
<polyline clip-path="url(#cb)" points="678.0,330.2 678.8,330.8 679.9,330.6 681.2,329.0 682.7,327.8 684.2,327.8 685.7,328.1 687.0,327.5 688.3,326.0 689.7,325.5 691.1,326.2 692.6,326.7 694.0,326.9 695.4,326.5 696.8,325.6 698.3,326.1 699.7,327.1 701.2,326.3 702.6,325.3 703.9,325.5 705.2,326.1 706.8,326.1 708.3,325.4 709.7,325.0 711.1,325.0 712.5,325.4 713.9,325.8 715.3,325.4 716.6,325.4 718.1,326.3 719.7,326.9 720.9,327.0 722.2,327.5 723.6,328.2 725.0,328.9 726.5,330.5 728.0,331.9 729.5,331.5 730.9,330.8 732.4,330.4 733.9,330.9 735.4,331.7 737.0,331.9 738.5,332.1 740.1,332.0 741.6,331.9 743.1,332.3 744.6,332.9 746.2,333.6 747.7,333.6 749.2,333.5 750.8,333.9 752.3,333.9 753.8,333.8 755.3,334.0 756.8,334.1 758.3,334.3 759.9,334.1 761.4,333.2 762.9,332.9 764.4,333.3 765.9,333.7 767.4,333.6 768.9,333.0 770.5,332.9 772.0,332.9 773.5,332.7 775.1,332.5 776.6,332.1 778.1,331.3 779.6,330.9 781.1,331.1 782.6,331.9 784.2,332.3 785.7,332.0 787.2,331.5 788.7,331.1 790.2,330.6 791.7,330.1 793.2,330.3 794.8,330.1 796.3,328.8 797.8,328.4 799.4,329.0 800.9,328.7 802.4,328.4 803.9,327.7 805.4,327.3 806.9,328.4 808.4,328.4 810.0,327.3 811.5,326.9 813.0,326.4 814.5,325.8 816.0,326.1 817.5,326.9 819.1,327.5 820.6,327.5 822.1,327.6 823.7,327.8 825.2,327.5 826.7,328.0 828.3,328.4 829.8,327.3 831.5,326.4 833.1,326.9 834.6,327.9 836.1,328.7 837.5,328.7 838.8,327.9 840.5,328.0 842.0,328.5 843.2,327.7 844.6,327.0 846.1,328.4 847.4,329.5 848.7,328.4 850.1,326.7 851.5,326.1 853.0,326.8 854.4,327.2 855.8,326.2 857.2,325.3 858.7,324.9 860.2,324.4 861.7,323.7 863.1,322.3 864.4,321.6 865.5,322.1 866.9,322.0 867.7,321.3 868.6,319.9 870.0,318.5 871.1,318.2 872.4,318.1 873.8,318.0 875.3,318.0 876.8,317.7 878.3,317.6 879.7,317.4 881.1,317.2 882.5,317.9 883.9,318.8 885.2,319.4 886.6,319.4 888.0,319.2 889.4,319.7 890.8,321.0 892.2,321.2 893.6,319.9 895.0,318.7 896.4,318.2 897.8,318.5 899.2,319.2 900.6,319.6 902.0,318.6 903.4,316.9 904.7,316.6 906.1,317.7 907.5,317.3 908.9,315.9 910.1,315.3 911.3,315.6 912.5,316.6 913.8,315.7 915.0,313.6 916.2,311.6 917.4,309.8 918.6,308.8 919.6,308.1 920.6,307.1 921.6,305.3 922.6,304.5 923.6,304.8 924.6,303.6 925.6,300.7 926.5,299.1 927.4,299.2 928.3,298.2 929.3,296.0 930.3,294.5 931.2,293.2 932.1,292.0 933.0,291.7 933.8,291.7 934.7,291.4 935.6,290.6 936.8,288.8 938.1,286.9 939.4,285.9 940.6,285.1 941.8,284.1 942.9,283.9 944.3,285.5 945.4,286.9 946.6,287.9 947.8,289.1 948.5,289.2 949.2,289.8 949.9,291.1 950.6,292.3 951.4,293.0 952.2,293.9 953.0,295.5 953.8,297.4 955.0,298.9 956.2,300.1 957.4,301.5 958.7,302.2 959.9,302.9 961.1,303.2 962.7,302.4 964.1,302.2 965.6,302.8 967.2,302.8 968.3,302.6 969.5,302.0 970.8,301.0 972.0,299.2 973.3,297.0 974.5,296.1 975.4,295.1 976.3,293.7 977.2,293.0 978.1,292.7 979.1,291.9 980.0,289.9 980.9,287.4 981.8,285.3 982.5,284.1 983.3,283.9 984.1,283.3 984.9,281.8 985.7,280.7 986.5,279.8 987.2,278.4 987.9,276.1 988.5,274.1 989.1,273.3 989.5,273.2 989.9,271.7 990.2,269.5 990.5,267.7 990.7,266.2 991.0,264.4 991.2,262.6 991.4,260.5 991.6,258.5 991.9,257.7 992.1,257.4 992.4,255.9 992.8,253.6 993.2,251.9 993.6,250.6 994.0,249.1 994.4,247.5 994.8,246.3 995.2,244.9 995.6,243.1 996.0,241.4 996.4,239.9 996.8,238.7 997.2,237.3 997.6,235.0 998.0,233.7 998.4,232.5 998.8,231.2 999.1,230.4 999.5,229.5 999.9,227.5 1000.3,225.4 1000.7,223.6 1001.1,222.6 1001.6,221.5 1002.0,219.6 1002.5,217.6 1003.3,215.9 1004.1,214.4 1004.9,213.9 1005.8,214.2 1006.6,214.0 1007.4,214.3 1008.3,215.2 1009.1,216.1 1009.9,217.7 1010.6,218.9 1011.1,218.8 1011.5,219.6 1011.9,221.9 1012.3,224.7 1012.7,226.3 1013.1,227.2 1013.6,228.9 1014.0,230.0 1014.4,230.9 1014.9,232.1 1015.4,233.1 1015.8,233.9 1016.3,235.3 1016.8,237.3 1017.2,240.1 1017.7,243.1 1018.1,244.4 1018.5,243.9 1018.9,244.1 1019.3,245.7 1019.8,248.1 1020.2,250.7 1020.6,251.8 1020.9,252.5 1021.3,254.3 1021.7,255.2 1022.2,255.8 1022.7,257.5 1023.2,259.4 1023.6,261.1 1024.1,262.4 1024.6,263.6 1025.0,264.8 1025.5,265.9 1025.9,267.5 1026.3,269.7 1026.7,271.0 1027.3,271.7 1028.0,272.7 1028.5,274.3 1029.0,275.9 1029.6,276.9 1030.2,278.6 1030.8,280.0 1031.5,281.3 1032.2,282.7 1032.9,284.5 1033.7,286.0 1034.4,287.3 1035.2,288.5 1036.1,289.1 1037.0,290.1 1038.0,291.9 1038.9,292.8 1039.9,294.4 1041.0,296.6 1042.0,297.5 1043.0,297.7 1044.0,299.6 1045.0,301.7 1046.2,302.4 1047.5,302.3 1048.8,302.6 1050.1,303.2 1051.4,303.7 1052.6,304.6 1053.7,305.5 1054.7,306.5 1056.2,307.8 1057.3,307.8 1058.5,308.1 1060.0,309.2 1061.2,309.3 1062.5,309.5 1063.8,310.2 1065.3,310.4 1066.8,310.5 1068.3,311.7 1069.7,312.7 1071.1,312.0 1072.5,311.8 1074.0,312.3 1075.4,312.3 1076.8,312.1 1078.1,311.2 1079.4,309.9 1081.0,310.1 1082.5,311.4 1083.9,312.3 1085.3,312.8 1086.7,312.3 1087.9,311.4 1089.1,310.8 1090.3,310.2 1091.6,309.8 1092.8,309.2 1094.0,307.8 1095.2,306.4 1096.5,305.9 1097.7,306.1 1099.0,305.7 1100.2,304.4 1101.3,303.0 1102.1,301.7 1102.9,300.3 1103.7,298.8 1104.5,297.0 1105.3,295.6 1106.0,294.6 1106.7,293.6 1107.4,292.0 1108.0,290.8 1108.6,290.2 1109.1,288.9 1109.6,286.6 1110.1,285.0 1110.6,284.0 1111.2,282.5 1111.7,281.2 1112.2,279.9 1112.8,277.9 1113.4,276.3 1114.0,275.4 1114.6,273.9 1115.2,272.8 1115.8,272.6 1116.5,272.3 1117.1,271.5 1118.2,268.7 1119.4,266.2 1120.5,265.5 1121.7,265.2 1122.7,264.4 1123.8,264.2 1124.8,264.5 1125.8,265.0 1126.8,266.4 1127.4,267.1 1128.1,268.3 1128.8,270.5 1129.5,272.2 1130.2,273.1 1130.9,273.7 1131.7,275.3 1132.3,277.4 1132.8,278.7 1133.4,279.5 1134.0,281.0 1134.6,282.6 1135.2,284.6 1135.8,286.7 1136.5,288.3 1137.1,289.8 1137.8,290.8 1138.4,291.6 1139.0,293.0 1139.7,294.6 1140.3,296.3 1141.0,298.1 1141.6,300.1 1142.3,300.9 1143.0,301.0 1143.7,302.6 1144.4,305.0 1145.1,307.1 1146.0,307.7 1146.9,307.8 1147.8,309.3 1148.7,311.0 1149.6,312.2 1150.5,312.9 1151.5,314.0 1152.5,315.3 1153.6,316.2 1154.7,316.6 1155.8,317.4 1157.0,319.4 1158.2,321.0 1159.4,321.1 1160.7,321.4 1162.0,322.6 1163.2,323.6 1164.5,323.9 1166.0,324.6 1167.4,325.1 1168.9,324.4 1170.5,323.8 1172.0,323.7 1173.5,324.1 1175.1,324.4 1176.6,324.6 1178.1,325.6 1179.6,326.7 1181.2,326.6 1182.7,327.0 1184.2,327.9 1185.8,327.1 1187.3,326.4 1188.8,327.0 1190.3,327.8 1191.8,328.4 1193.3,328.0 1194.9,327.6 1196.4,328.0 1197.9,328.7 1199.4,329.1 1200.9,329.5 1202.4,329.7 1203.9,330.1 1205.5,331.1 1207.0,331.4 1208.5,330.8 1210.1,330.1 1211.6,330.2 1213.1,331.6 1214.6,332.5 1216.1,331.5 1217.6,330.7 1219.2,330.6 1220.7,330.6 1222.2,330.8 1223.7,331.8 1225.2,332.6 1226.7,332.2 1228.1,331.3 1229.6,331.1 1231.0,331.8 1232.5,331.9 1234.0,331.2 1235.6,331.3 1237.4,332.3 1238.8,333.1 1240.4,333.1 1242.1,332.6 1243.9,332.5 1245.8,332.6 1247.6,333.3 1249.3,333.5 1250.9,332.6 1252.3,332.6 1253.5,333.3 1254.4,332.9" fill="none" stroke="#ee20b0" stroke-width="3.2" stroke-linejoin="round" stroke-linecap="round"/>
<polyline clip-path="url(#cb)" points="678.0,406.4 679.0,406.9 680.4,406.6 682.1,406.3 683.9,406.3 685.7,405.7 687.0,405.6 688.4,405.8 689.8,404.7 691.3,403.3 692.7,403.1 694.1,403.6 695.4,404.3 697.0,404.3 698.4,404.1 699.7,403.9 701.1,403.3 702.7,402.6 703.9,402.6 705.3,402.4 706.6,402.2 708.0,402.9 709.5,403.2 711.0,403.9 712.5,405.1 713.9,405.0 715.4,404.4 716.9,405.3 718.4,406.4 720.0,406.2 721.5,406.3 723.1,406.8 724.6,407.0 726.1,407.0 727.6,406.6 729.2,406.7 730.7,407.0 732.2,407.6 733.8,408.6 735.3,408.8 736.8,408.2 738.3,407.9 739.8,407.6 741.3,407.4 742.9,407.8 744.4,407.9 745.9,407.0 747.4,406.8 748.9,408.0 750.4,408.3 751.9,408.2 753.5,408.7 755.0,408.4 756.5,408.3 758.1,409.3 759.6,409.6 761.1,409.4 762.6,409.7 764.1,409.2 765.6,408.7 767.2,409.1 768.7,408.3 770.2,407.2 771.7,407.3 773.2,407.5 774.7,407.1 776.2,406.6 777.8,407.2 779.3,407.7 780.8,407.4 782.4,407.4 783.9,407.6 785.4,407.2 786.9,406.3 788.4,406.0 789.9,406.7 791.4,406.8 793.0,406.2 794.5,405.9 796.0,405.1 797.5,404.0 799.0,403.7 800.5,403.4 802.1,404.0 803.6,405.2 805.1,404.9 806.7,403.7 808.2,403.0 809.7,402.1 811.2,401.3 812.7,401.9 814.2,402.1 815.8,401.4 817.3,400.9 818.8,400.9 820.3,401.4 821.8,401.6 823.3,402.1 824.8,402.3 826.4,400.8 827.9,399.7 829.4,399.4 831.0,399.5 832.5,400.1 834.0,399.5 835.5,398.3 837.1,398.5 838.7,398.4 840.2,397.3 841.7,397.0 843.2,397.7 844.7,398.2 846.1,397.3 847.6,396.1 849.0,396.3 850.4,396.9 851.8,397.0 853.1,396.6 854.4,395.4 855.8,394.7 857.2,394.4 858.7,393.7 860.2,393.3 861.7,392.8 863.1,391.3 864.4,390.5 865.5,391.3 866.9,390.7 867.7,389.1 868.6,387.7 870.0,386.8 871.1,387.0 872.4,386.6 873.8,386.8 875.3,387.2 876.8,386.2 878.3,385.4 879.7,384.7 881.1,384.1 882.5,384.6 884.0,385.2 885.4,384.9 886.8,385.3 888.1,386.0 889.4,385.6 891.0,385.6 892.5,386.7 893.9,387.2 895.3,386.8 896.7,386.1 897.7,385.5 898.8,383.6 899.8,381.9 900.8,381.5 901.8,381.0 902.9,380.1 904.0,379.3 905.2,379.2 906.4,378.7 907.7,376.9 909.0,375.6 910.2,375.7 911.4,375.9 912.5,375.0 913.5,373.2 914.4,371.7 915.3,371.2 916.1,370.4 916.9,369.0 917.7,368.0 918.6,366.5 919.3,364.8 920.0,363.6 920.6,362.9 921.3,360.9 922.0,358.9 922.7,358.0 923.3,357.0 924.0,355.8 924.7,354.0 925.3,352.1 925.9,350.8 926.5,349.1 927.1,347.5 927.7,346.7 928.3,345.7 928.9,343.9 929.5,342.0 930.1,340.5 930.8,339.5 931.4,338.5 932.1,337.2 932.7,336.2 933.4,334.6 934.1,332.0 934.8,330.6 935.5,330.1 936.2,328.4 936.8,326.0 937.4,324.6 938.0,324.6 938.8,324.0 939.5,322.1 940.2,319.8 940.8,319.1 941.5,318.8 942.2,317.1 942.9,315.4 944.1,313.9 945.4,313.5 946.7,313.6 947.9,312.7 949.0,311.4 950.1,310.3 951.0,309.3 951.8,308.2 952.6,307.9 953.5,308.9 954.5,310.4 955.4,311.8 956.3,312.9 957.4,313.0 958.4,312.1 959.9,312.1 960.7,312.5 961.7,313.3 962.8,314.6 963.9,314.9 965.0,315.7 966.1,317.9 967.2,319.0 968.4,319.7 969.6,321.5 970.9,323.1 972.1,323.5 973.3,323.6 974.5,324.0 976.0,324.0 977.4,323.8 978.9,323.3 980.3,322.7 981.8,322.0 982.7,321.2 983.6,320.6 984.5,319.5 985.4,318.1 986.4,317.2 987.3,316.4 988.2,314.8 989.1,313.0 989.7,312.2 990.2,311.0 990.8,308.8 991.4,306.1 991.9,304.6 992.5,303.9 993.1,302.2 993.6,300.8 994.2,299.0 994.7,296.7 995.3,296.0 995.9,295.6 996.4,294.0 997.2,291.8 998.0,290.1 998.8,288.8 999.6,287.9 1000.4,286.7 1001.2,285.1 1001.9,284.1 1002.6,283.4 1003.2,282.8 1004.5,280.7 1005.5,279.6 1006.6,280.1 1007.6,280.2 1008.7,279.7 1009.8,280.4 1011.0,282.3 1011.4,283.7 1011.8,285.1 1012.2,285.7 1012.6,286.8 1013.0,288.4 1013.4,289.9 1013.8,291.4 1014.2,293.2 1014.6,295.5 1015.0,296.9 1015.4,298.5 1015.8,300.4 1016.2,301.9 1016.5,303.1 1016.9,304.6 1017.3,306.4 1017.7,307.5 1018.1,308.6 1018.4,310.3 1018.8,311.3 1019.2,312.9 1019.6,315.0 1020.0,316.7 1020.3,318.4 1020.7,319.9 1021.1,321.4 1021.5,323.1 1022.0,324.7 1022.4,326.4 1022.8,328.3 1023.3,329.2 1023.7,329.0 1024.1,330.7 1024.5,333.4 1024.8,334.6 1025.2,335.5 1025.5,336.7 1026.1,339.4 1026.4,341.1 1026.8,341.4 1027.2,342.2 1028.0,343.8 1028.5,344.3 1029.1,345.5 1029.8,347.3 1030.5,349.1 1031.3,350.2 1032.1,350.5 1032.9,352.4 1033.7,355.3 1034.5,356.8 1035.2,357.7 1036.0,358.6 1036.8,360.2 1037.5,362.0 1038.3,362.2 1039.1,363.1 1039.9,365.1 1040.7,365.9 1041.6,366.4 1042.5,368.2 1043.5,369.4 1044.6,369.7 1045.7,371.0 1046.8,373.4 1048.0,374.2 1049.1,373.5 1050.2,374.3 1051.3,375.7 1052.3,376.1 1053.7,376.8 1054.9,378.0 1056.2,378.8 1057.4,379.3 1058.6,380.4 1060.0,381.5 1061.3,382.2 1062.6,382.5 1064.0,382.2 1065.4,382.7 1066.9,384.0 1068.3,384.9 1069.7,384.9 1071.1,384.6 1072.5,384.6 1073.9,385.0 1075.2,385.8 1076.6,386.5 1078.0,387.2 1079.4,388.1 1080.8,389.2 1082.3,389.6 1083.7,389.0 1085.2,388.6 1086.6,389.2 1087.9,390.0 1089.2,390.4 1090.8,390.6 1092.2,390.7 1093.5,390.7 1094.9,391.2 1096.5,391.2 1097.8,390.4 1099.1,390.1 1100.5,390.1 1101.9,389.5 1103.4,389.0 1104.8,388.4 1106.2,387.5 1107.4,386.8 1108.6,386.1 1109.8,386.0 1111.1,386.2 1112.3,385.2 1113.5,383.6 1114.7,382.9 1115.9,382.3 1117.3,381.6 1118.7,381.4 1120.2,380.6 1121.6,379.5 1123.0,378.3 1124.3,377.5 1125.6,377.5 1127.2,378.2 1128.6,379.0 1129.9,379.4 1131.3,379.9 1132.9,380.3 1133.9,380.6 1134.9,381.7 1136.0,382.3 1137.0,382.9 1138.2,384.9 1139.3,386.7 1140.4,387.0 1141.5,387.2 1142.6,387.9 1143.8,389.1 1145.0,390.3 1146.1,391.4 1147.3,392.7 1148.5,394.4 1149.7,395.3 1151.0,394.8 1152.3,395.3 1153.7,397.4 1155.2,398.2 1156.7,398.1 1158.2,398.4 1159.8,398.5 1161.4,399.0 1163.0,399.8 1164.5,400.0 1166.0,400.3 1167.5,400.7 1169.0,400.6 1170.5,400.7 1172.1,401.3 1173.6,402.0 1175.1,401.8 1176.6,401.2 1178.1,401.0 1179.6,400.4 1181.2,400.8 1182.7,402.3 1184.2,403.5 1185.7,403.5 1187.3,403.1 1188.8,403.6 1190.3,403.8 1191.9,403.8 1193.4,404.9 1194.9,405.2 1196.4,404.1 1198.0,403.6 1199.5,404.3 1201.0,405.4 1202.5,406.3 1204.0,406.2 1205.5,405.7 1207.1,405.6 1208.6,406.1 1210.1,406.4 1211.6,405.7 1213.1,405.6 1214.6,406.5 1216.1,407.4 1217.6,407.3 1219.1,407.1 1220.7,408.1 1222.2,409.1 1223.7,408.3 1225.2,407.2 1226.7,407.7 1228.1,408.2 1229.6,407.3 1231.0,407.2 1232.5,408.3 1234.0,408.8 1235.6,408.8 1237.4,408.9 1238.8,409.2 1240.4,409.0 1242.1,408.0 1243.9,407.1 1245.8,407.4 1247.6,409.0 1249.3,409.9 1250.9,409.3 1252.3,407.9 1253.5,407.6 1254.4,408.4" fill="none" stroke="#707000" stroke-width="3.2" stroke-linejoin="round" stroke-linecap="round"/>
<rect x="38.5" y="1.5" width="580.5" height="426.5" fill="none" stroke="#000" stroke-width="3"/>
<rect x="676.3" y="1.5" width="580.0" height="426.5" fill="none" stroke="#000" stroke-width="3"/>
<line x1="91.2" y1="416.5" x2="91.2" y2="428" stroke="#000" stroke-width="2.6"/>
<line x1="144.0" y1="421.5" x2="144.0" y2="428" stroke="#000" stroke-width="2.6"/>
<line x1="196.8" y1="416.5" x2="196.8" y2="428" stroke="#000" stroke-width="2.6"/>
<line x1="249.6" y1="421.5" x2="249.6" y2="428" stroke="#000" stroke-width="2.6"/>
<line x1="302.4" y1="416.5" x2="302.4" y2="428" stroke="#000" stroke-width="2.6"/>
<line x1="355.2" y1="421.5" x2="355.2" y2="428" stroke="#000" stroke-width="2.6"/>
<line x1="408.0" y1="416.5" x2="408.0" y2="428" stroke="#000" stroke-width="2.6"/>
<line x1="460.8" y1="421.5" x2="460.8" y2="428" stroke="#000" stroke-width="2.6"/>
<line x1="513.6" y1="416.5" x2="513.6" y2="428" stroke="#000" stroke-width="2.6"/>
<line x1="566.4" y1="421.5" x2="566.4" y2="428" stroke="#000" stroke-width="2.6"/>
<line x1="619.2" y1="416.5" x2="619.2" y2="428" stroke="#000" stroke-width="2.6"/>
<line x1="724.5" y1="421.5" x2="724.5" y2="428" stroke="#000" stroke-width="2.6"/>
<line x1="772.8" y1="416.5" x2="772.8" y2="428" stroke="#000" stroke-width="2.6"/>
<line x1="821.0" y1="421.5" x2="821.0" y2="428" stroke="#000" stroke-width="2.6"/>
<line x1="869.3" y1="416.5" x2="869.3" y2="428" stroke="#000" stroke-width="2.6"/>
<line x1="917.5" y1="421.5" x2="917.5" y2="428" stroke="#000" stroke-width="2.6"/>
<line x1="965.8" y1="416.5" x2="965.8" y2="428" stroke="#000" stroke-width="2.6"/>
<line x1="1014.0" y1="421.5" x2="1014.0" y2="428" stroke="#000" stroke-width="2.6"/>
<line x1="1062.3" y1="416.5" x2="1062.3" y2="428" stroke="#000" stroke-width="2.6"/>
<line x1="1110.5" y1="421.5" x2="1110.5" y2="428" stroke="#000" stroke-width="2.6"/>
<line x1="1158.8" y1="416.5" x2="1158.8" y2="428" stroke="#000" stroke-width="2.6"/>
<line x1="1207.0" y1="421.5" x2="1207.0" y2="428" stroke="#000" stroke-width="2.6"/>
<text transform="translate(91.2,457.3) scale(1.0,1)" font-size="22" text-anchor="middle">200</text>
<text transform="translate(196.8,457.3) scale(1.0,1)" font-size="22" text-anchor="middle">400</text>
<text transform="translate(302.4,457.3) scale(1.0,1)" font-size="22" text-anchor="middle">600</text>
<text transform="translate(408.0,457.3) scale(1.0,1)" font-size="22" text-anchor="middle">800</text>
<text transform="translate(513.6,457.3) scale(1.0,1)" font-size="22" text-anchor="middle">1000</text>
<text transform="translate(619.2,457.3) scale(1.0,1)" font-size="22" text-anchor="middle">1200</text>
<text transform="translate(676.3,457.3) scale(1.0,1)" font-size="22" text-anchor="middle">700</text>
<text transform="translate(772.8,457.3) scale(1.0,1)" font-size="22" text-anchor="middle">750</text>
<text transform="translate(869.3,457.3) scale(1.0,1)" font-size="22" text-anchor="middle">800</text>
<text transform="translate(965.8,457.3) scale(1.0,1)" font-size="22" text-anchor="middle">850</text>
<text transform="translate(1062.3,457.3) scale(1.0,1)" font-size="22" text-anchor="middle">900</text>
<text transform="translate(1158.8,457.3) scale(1.0,1)" font-size="22" text-anchor="middle">950</text>
<text transform="translate(1255.3,457.3) scale(1.0,1)" font-size="22" text-anchor="middle">1000</text>
<text x="328" y="488" font-size="24" text-anchor="middle">Raman shift <tspan font-weight="normal">(</tspan>cm<tspan font-size="14" dy="-13.5">-1</tspan><tspan dy="13.5" font-weight="normal">)</tspan></text>
<text x="966" y="488" font-size="24" text-anchor="middle">Raman shift <tspan font-weight="normal">(</tspan>cm<tspan font-size="14" dy="-13.5">-1</tspan><tspan dy="13.5" font-weight="normal">)</tspan></text>
<text transform="translate(19.8,213) rotate(-90)" font-size="25" text-anchor="middle">Intensity <tspan font-weight="normal">(</tspan>cps<tspan font-weight="normal">)</tspan></text>
<text transform="translate(657.6,224.6) rotate(-90)" font-size="25" text-anchor="middle">Intensity <tspan font-weight="normal">(</tspan>cps<tspan font-weight="normal">)</tspan></text>
<text x="574" y="34" font-size="30"><tspan font-weight="normal">(</tspan>a<tspan font-weight="normal">)</tspan></text>
<text x="1201" y="42" font-size="30"><tspan font-weight="normal">(</tspan>b<tspan font-weight="normal">)</tspan></text>
<text x="55" y="29.6" font-size="15" fill="#222">155</text>
<text x="114" y="90" font-size="15" fill="#222">266</text>
<text x="145.7" y="99.2" font-size="15" fill="#222">328</text>
<text x="245.2" y="68.9" font-size="15" fill="#222">514</text>
<text x="345" y="76.9" font-size="15" fill="#222">706</text>
<text x="40.8" y="211" font-size="15" fill="#222">147</text>
<text x="68.6" y="216.2" font-size="15" fill="#222">173</text>
<text x="87.6" y="234" font-size="15" fill="#222">256</text>
<text x="111.1" y="219.6" font-size="15" fill="#222">283</text>
<text x="137.2" y="228.1" font-size="15" fill="#222">307</text>
<text x="171.1" y="215.4" font-size="15" fill="#222">339</text>
<text x="349.9" y="230.1" font-size="15" fill="#222">708</text>
<line x1="110.2" y1="234" x2="121.6" y2="246.7" stroke="#111" stroke-width="1.8"/>
<line x1="127.2" y1="222.7" x2="134.3" y2="242.5" stroke="#111" stroke-width="1.8"/>
<line x1="146.5" y1="231.2" x2="146.5" y2="239.7" stroke="#111" stroke-width="1.8"/>
<line x1="174" y1="221.2" x2="166.9" y2="242.5" stroke="#111" stroke-width="1.8"/>
<text transform="translate(543,118.3) scale(1.0,1)" font-size="18.5" fill="#111">V<tspan font-size="12" fill="#222" dy="8.5" dx="0.4">2</tspan><tspan dy="-8.5" dx="0.5">O</tspan><tspan font-size="12" fill="#222" dy="8.5" dx="1.0">5</tspan></text>
<text transform="translate(515.2,173) scale(1.0,1)" font-size="18.5" fill="#111">M<tspan dx="1.2">n</tspan><tspan font-size="12" fill="#3a3a3a" dy="8.5" dx="0.1">0.27</tspan><tspan dy="-8.5" dx="0.4">V</tspan><tspan font-size="12" fill="#222" dy="8.5" dx="0.4">2</tspan><tspan dy="-8.5" dx="0.5">O</tspan><tspan font-size="12" fill="#222" dy="8.5" dx="1.0">5</tspan></text>
<text transform="translate(512.6,232.4) scale(1.0,1)" font-size="18.5" fill="#111">M<tspan dx="1.2">n</tspan><tspan font-size="12" fill="#3a3a3a" dy="8.5" dx="0.1">0.4</tspan><tspan dy="-8.5" dx="0.4">V</tspan><tspan font-size="12" fill="#222" dy="8.5" dx="0.4">2</tspan><tspan dy="-8.5" dx="0.5">O</tspan><tspan font-size="12" fill="#222" dy="8.5" dx="1.0">5</tspan></text>
<text transform="translate(514.2,283) scale(1.0,1)" font-size="18.5" fill="#111">M<tspan dx="1.2">n</tspan><tspan font-size="12" fill="#3a3a3a" dy="8.5" dx="0.1">0.54</tspan><tspan dy="-8.5" dx="0.4">V</tspan><tspan font-size="12" fill="#222" dy="8.5" dx="0.4">2</tspan><tspan dy="-8.5" dx="0.5">O</tspan><tspan font-size="12" fill="#222" dy="8.5" dx="1.0">5</tspan></text>
<text transform="translate(515.2,326.9) scale(1.0,1)" font-size="18.5" fill="#111">M<tspan dx="1.2">n</tspan><tspan font-size="12" fill="#3a3a3a" dy="8.5" dx="0.1">0.64</tspan><tspan dy="-8.5" dx="0.4">V</tspan><tspan font-size="12" fill="#222" dy="8.5" dx="0.4">2</tspan><tspan dy="-8.5" dx="0.5">O</tspan><tspan font-size="12" fill="#222" dy="8.5" dx="1.0">5</tspan></text>
<text transform="translate(515.8,373.9) scale(1.0,1)" font-size="18.5" fill="#111">M<tspan dx="1.2">n</tspan><tspan font-size="12" fill="#3a3a3a" dy="8.5" dx="0.1">0.94</tspan><tspan dy="-8.5" dx="0.4">V</tspan><tspan font-size="12" fill="#222" dy="8.5" dx="0.4">2</tspan><tspan dy="-8.5" dx="0.5">O</tspan><tspan font-size="12" fill="#222" dy="8.5" dx="1.0">5</tspan></text>
<text transform="translate(718.5,59.4) scale(1.0,1)" font-size="18.5" fill="#111">V<tspan font-size="12" fill="#222" dy="8.5" dx="0.4">2</tspan><tspan dy="-8.5" dx="0.5">O</tspan><tspan font-size="12" fill="#222" dy="8.5" dx="1.0">5</tspan></text>
<text transform="translate(700.3,137.2) scale(1.0,1)" font-size="18.5" fill="#111">M<tspan dx="1.2">n</tspan><tspan font-size="12" fill="#3a3a3a" dy="8.5" dx="0.1">0.27</tspan><tspan dy="-8.5" dx="0.4">V</tspan><tspan font-size="12" fill="#222" dy="8.5" dx="0.4">2</tspan><tspan dy="-8.5" dx="0.5">O</tspan><tspan font-size="12" fill="#222" dy="8.5" dx="1.0">5</tspan></text>
<text transform="translate(694.2,196.2) scale(1.0,1)" font-size="18.5" fill="#111">M<tspan dx="1.2">n</tspan><tspan font-size="12" fill="#3a3a3a" dy="8.5" dx="0.1">0.4</tspan><tspan dy="-8.5" dx="0.4">V</tspan><tspan font-size="12" fill="#222" dy="8.5" dx="0.4">2</tspan><tspan dy="-8.5" dx="0.5">O</tspan><tspan font-size="12" fill="#222" dy="8.5" dx="1.0">5</tspan></text>
<text transform="translate(694.2,256.9) scale(1.0,1)" font-size="18.5" fill="#111">M<tspan dx="1.2">n</tspan><tspan font-size="12" fill="#3a3a3a" dy="8.5" dx="0.1">0.54</tspan><tspan dy="-8.5" dx="0.4">V</tspan><tspan font-size="12" fill="#222" dy="8.5" dx="0.4">2</tspan><tspan dy="-8.5" dx="0.5">O</tspan><tspan font-size="12" fill="#222" dy="8.5" dx="1.0">5</tspan></text>
<text transform="translate(694.2,314.8) scale(1.0,1)" font-size="18.5" fill="#111">M<tspan dx="1.2">n</tspan><tspan font-size="12" fill="#3a3a3a" dy="8.5" dx="0.1">0.64</tspan><tspan dy="-8.5" dx="0.4">V</tspan><tspan font-size="12" fill="#222" dy="8.5" dx="0.4">2</tspan><tspan dy="-8.5" dx="0.5">O</tspan><tspan font-size="12" fill="#222" dy="8.5" dx="1.0">5</tspan></text>
<text transform="translate(689.4,392.9) scale(1.0,1)" font-size="18.5" fill="#111">M<tspan dx="1.2">n</tspan><tspan font-size="12" fill="#3a3a3a" dy="8.5" dx="0.1">0.94</tspan><tspan dy="-8.5" dx="0.4">V</tspan><tspan font-size="12" fill="#222" dy="8.5" dx="0.4">2</tspan><tspan dy="-8.5" dx="0.5">O</tspan><tspan font-size="12" fill="#222" dy="8.5" dx="1.0">5</tspan></text>
</g></svg></body></html>
